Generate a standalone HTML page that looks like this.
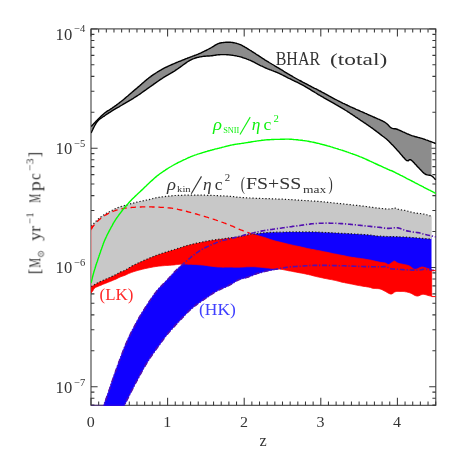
<!DOCTYPE html>
<html><head><meta charset="utf-8"><title>plot</title>
<style>html,body{margin:0;padding:0;background:#fff}svg{display:block}text{font-family:"Liberation Serif",serif}</style>
</head><body>
<svg width="463" height="463" viewBox="0 0 463 463">
<defs><clipPath id="cp"><rect x="91.1" y="28.9" width="345.3" height="377.00000000000006"/></clipPath></defs>
<rect width="463" height="463" fill="#fff"/>
<rect x="91.0" y="28.9" width="344.8" height="376.40000000000003" fill="none" stroke="#383838" stroke-width="1.05"/>
<path d="M91.00 405.3 v-7.6 M91.00 28.9 v7.6 M98.66 405.3 v-3.7 M98.66 28.9 v3.7 M106.32 405.3 v-3.7 M106.32 28.9 v3.7 M113.98 405.3 v-3.7 M113.98 28.9 v3.7 M121.64 405.3 v-3.7 M121.64 28.9 v3.7 M129.30 405.3 v-3.7 M129.30 28.9 v3.7 M136.96 405.3 v-3.7 M136.96 28.9 v3.7 M144.62 405.3 v-3.7 M144.62 28.9 v3.7 M152.28 405.3 v-3.7 M152.28 28.9 v3.7 M159.94 405.3 v-3.7 M159.94 28.9 v3.7 M167.60 405.3 v-7.6 M167.60 28.9 v7.6 M175.26 405.3 v-3.7 M175.26 28.9 v3.7 M182.92 405.3 v-3.7 M182.92 28.9 v3.7 M190.58 405.3 v-3.7 M190.58 28.9 v3.7 M198.24 405.3 v-3.7 M198.24 28.9 v3.7 M205.90 405.3 v-3.7 M205.90 28.9 v3.7 M213.56 405.3 v-3.7 M213.56 28.9 v3.7 M221.22 405.3 v-3.7 M221.22 28.9 v3.7 M228.88 405.3 v-3.7 M228.88 28.9 v3.7 M236.54 405.3 v-3.7 M236.54 28.9 v3.7 M244.20 405.3 v-7.6 M244.20 28.9 v7.6 M251.86 405.3 v-3.7 M251.86 28.9 v3.7 M259.52 405.3 v-3.7 M259.52 28.9 v3.7 M267.18 405.3 v-3.7 M267.18 28.9 v3.7 M274.84 405.3 v-3.7 M274.84 28.9 v3.7 M282.50 405.3 v-3.7 M282.50 28.9 v3.7 M290.16 405.3 v-3.7 M290.16 28.9 v3.7 M297.82 405.3 v-3.7 M297.82 28.9 v3.7 M305.48 405.3 v-3.7 M305.48 28.9 v3.7 M313.14 405.3 v-3.7 M313.14 28.9 v3.7 M320.80 405.3 v-7.6 M320.80 28.9 v7.6 M328.46 405.3 v-3.7 M328.46 28.9 v3.7 M336.12 405.3 v-3.7 M336.12 28.9 v3.7 M343.78 405.3 v-3.7 M343.78 28.9 v3.7 M351.44 405.3 v-3.7 M351.44 28.9 v3.7 M359.10 405.3 v-3.7 M359.10 28.9 v3.7 M366.76 405.3 v-3.7 M366.76 28.9 v3.7 M374.42 405.3 v-3.7 M374.42 28.9 v3.7 M382.08 405.3 v-3.7 M382.08 28.9 v3.7 M389.74 405.3 v-3.7 M389.74 28.9 v3.7 M397.40 405.3 v-7.6 M397.40 28.9 v7.6 M405.06 405.3 v-3.7 M405.06 28.9 v3.7 M412.72 405.3 v-3.7 M412.72 28.9 v3.7 M420.38 405.3 v-3.7 M420.38 28.9 v3.7 M428.04 405.3 v-3.7 M428.04 28.9 v3.7 M435.70 405.3 v-3.7 M435.70 28.9 v3.7 M91.0 405.12 h3.4 M435.8 405.12 h-3.4 M91.0 398.21 h3.4 M435.8 398.21 h-3.4 M91.0 392.11 h3.4 M435.8 392.11 h-3.4 M91.0 386.65 h6.6 M435.8 386.65 h-6.6 M91.0 350.75 h3.4 M435.8 350.75 h-3.4 M91.0 329.75 h3.4 M435.8 329.75 h-3.4 M91.0 314.85 h3.4 M435.8 314.85 h-3.4 M91.0 303.30 h3.4 M435.8 303.30 h-3.4 M91.0 293.86 h3.4 M435.8 293.86 h-3.4 M91.0 285.87 h3.4 M435.8 285.87 h-3.4 M91.0 278.96 h3.4 M435.8 278.96 h-3.4 M91.0 272.86 h3.4 M435.8 272.86 h-3.4 M91.0 267.40 h6.6 M435.8 267.40 h-6.6 M91.0 231.50 h3.4 M435.8 231.50 h-3.4 M91.0 210.50 h3.4 M435.8 210.50 h-3.4 M91.0 195.60 h3.4 M435.8 195.60 h-3.4 M91.0 184.05 h3.4 M435.8 184.05 h-3.4 M91.0 174.61 h3.4 M435.8 174.61 h-3.4 M91.0 166.62 h3.4 M435.8 166.62 h-3.4 M91.0 159.71 h3.4 M435.8 159.71 h-3.4 M91.0 153.61 h3.4 M435.8 153.61 h-3.4 M91.0 148.15 h6.6 M435.8 148.15 h-6.6 M91.0 112.25 h3.4 M435.8 112.25 h-3.4 M91.0 91.25 h3.4 M435.8 91.25 h-3.4 M91.0 76.35 h3.4 M435.8 76.35 h-3.4 M91.0 64.80 h3.4 M435.8 64.80 h-3.4 M91.0 55.36 h3.4 M435.8 55.36 h-3.4 M91.0 47.37 h3.4 M435.8 47.37 h-3.4 M91.0 40.46 h3.4 M435.8 40.46 h-3.4 M91.0 34.36 h3.4 M435.8 34.36 h-3.4 M91.0 28.90 h6.6 M435.8 28.90 h-6.6" stroke="#383838" stroke-width="1.05" fill="none"/>
<g clip-path="url(#cp)">
<path d="M102.5 410.0 L102.7 409.4 L102.9 408.6 L103.2 407.6 L103.5 406.5 L103.9 405.2 L104.4 403.7 L104.7 402.9 L105.0 402.1 L105.3 401.2 L105.6 400.2 L106.0 399.2 L106.3 398.2 L106.7 397.2 L107.1 396.1 L107.5 395.0 L107.9 393.9 L108.3 392.7 L108.7 391.6 L109.0 390.7 L109.3 389.8 L109.6 389.0 L109.9 388.0 L110.2 387.1 L110.5 386.2 L110.8 385.2 L111.1 384.3 L111.5 383.3 L111.8 382.3 L112.1 381.3 L112.5 380.3 L112.8 379.3 L113.2 378.2 L113.5 377.2 L113.9 376.1 L114.2 375.2 L114.5 374.3 L114.8 373.4 L115.2 372.5 L115.5 371.6 L115.8 370.6 L116.2 369.6 L116.5 368.7 L116.9 367.7 L117.2 366.7 L117.6 365.7 L118.0 364.7 L118.3 363.8 L118.7 362.8 L119.0 361.8 L119.4 360.8 L119.7 359.9 L120.1 358.9 L120.5 358.0 L120.8 357.1 L121.2 356.1 L121.6 355.1 L122.0 354.1 L122.3 353.1 L122.7 352.1 L123.1 351.1 L123.5 350.1 L123.9 349.1 L124.2 348.1 L124.6 347.2 L125.0 346.2 L125.4 345.2 L125.8 344.3 L126.2 343.4 L126.5 342.5 L126.9 341.6 L127.3 340.7 L127.7 339.8 L128.2 338.8 L128.6 337.8 L129.1 336.7 L129.6 335.8 L130.1 334.8 L130.5 333.8 L131.0 332.9 L131.5 332.0 L132.0 331.0 L132.4 330.2 L132.9 329.3 L133.3 328.4 L133.8 327.6 L134.2 326.8 L134.6 326.0 L135.2 324.9 L135.7 323.9 L136.2 323.0 L136.6 322.1 L137.1 321.2 L137.5 320.4 L138.0 319.5 L138.6 318.6 L139.1 317.6 L139.8 316.5 L140.2 315.8 L140.7 315.0 L141.2 314.2 L141.7 313.3 L142.3 312.4 L142.8 311.6 L143.4 310.7 L143.9 309.8 L144.5 308.9 L145.1 307.9 L145.7 307.0 L146.3 306.1 L146.8 305.2 L147.4 304.4 L148.0 303.5 L148.5 302.7 L149.1 301.8 L149.8 300.8 L150.4 299.9 L151.1 298.9 L151.7 298.0 L152.4 297.0 L153.0 296.1 L153.7 295.2 L154.3 294.3 L154.9 293.5 L155.5 292.7 L156.1 292.0 L156.6 291.3 L157.1 290.6 L158.0 289.5 L158.8 288.6 L159.5 287.8 L160.1 287.2 L160.7 286.6 L161.3 286.0 L162.0 285.3 L162.7 284.6 L163.4 283.9 L164.0 283.2 L164.7 282.5 L165.4 281.8 L166.2 281.0 L167.0 280.2 L167.6 279.5 L168.3 278.8 L169.0 278.1 L169.7 277.3 L170.4 276.5 L171.1 275.7 L171.8 274.9 L172.5 274.2 L173.2 273.5 L173.8 272.8 L174.6 271.9 L175.4 271.1 L176.2 270.3 L176.9 269.6 L177.6 268.9 L178.3 268.3 L179.0 267.6 L179.9 266.8 L180.7 266.1 L181.5 265.4 L182.3 264.6 L183.3 263.8 L184.0 263.2 L184.7 262.6 L185.5 261.9 L186.3 261.2 L187.1 260.5 L187.9 259.8 L188.7 259.1 L189.4 258.5 L190.3 257.8 L191.0 257.1 L191.8 256.5 L192.6 255.8 L193.5 255.2 L194.5 254.4 L195.2 253.9 L196.0 253.3 L196.8 252.8 L197.7 252.2 L198.6 251.5 L199.6 250.9 L200.5 250.3 L201.4 249.8 L202.3 249.2 L203.2 248.7 L204.2 248.2 L205.1 247.7 L206.1 247.2 L207.0 246.8 L208.0 246.4 L208.9 245.9 L209.9 245.5 L210.8 245.1 L211.8 244.7 L212.8 244.3 L213.7 243.9 L214.7 243.4 L215.7 243.0 L216.6 242.6 L217.6 242.3 L218.6 241.9 L219.5 241.5 L220.5 241.2 L221.6 240.9 L222.6 240.6 L223.7 240.3 L224.8 240.0 L225.8 239.8 L226.9 239.5 L228.0 239.3 L229.1 239.0 L230.1 238.7 L231.2 238.5 L232.2 238.2 L233.3 237.9 L234.4 237.7 L235.5 237.4 L236.5 237.1 L237.6 236.9 L238.6 236.6 L239.7 236.3 L240.8 236.0 L241.9 235.7 L243.0 235.4 L244.1 235.1 L245.2 234.9 L246.2 234.6 L247.3 234.3 L248.4 234.0 L249.5 233.8 L250.5 233.5 L251.6 233.3 L252.7 233.0 L253.8 232.8 L254.8 232.5 L255.9 232.3 L257.0 232.1 L258.0 231.8 L259.1 231.6 L260.2 231.4 L261.3 231.1 L262.3 230.9 L263.4 230.7 L264.5 230.5 L265.6 230.3 L266.7 230.1 L267.8 230.0 L268.8 229.8 L269.9 229.7 L271.0 229.5 L272.1 229.4 L273.2 229.2 L274.3 229.0 L275.4 228.9 L276.4 228.7 L277.5 228.6 L278.6 228.5 L279.6 228.3 L280.7 228.2 L281.8 228.0 L282.9 227.8 L284.0 227.7 L285.1 227.5 L286.2 227.3 L287.2 227.2 L288.3 227.0 L289.4 226.9 L290.5 226.7 L291.6 226.6 L292.6 226.4 L293.7 226.3 L294.8 226.2 L295.8 226.0 L296.9 225.9 L298.0 225.8 L299.1 225.6 L300.1 225.5 L301.2 225.3 L302.2 225.1 L303.3 225.0 L304.4 224.8 L305.5 224.6 L306.5 224.5 L307.6 224.3 L308.6 224.2 L309.7 224.1 L310.8 223.9 L311.9 223.8 L313.0 223.7 L314.1 223.6 L315.2 223.6 L316.2 223.5 L317.3 223.4 L318.4 223.3 L319.5 223.3 L320.5 223.2 L321.6 223.2 L322.7 223.2 L323.8 223.1 L324.8 223.1 L325.9 223.1 L327.0 223.1 L328.0 223.1 L329.1 223.1 L330.2 223.2 L331.3 223.2 L332.3 223.2 L333.4 223.3 L334.5 223.3 L335.6 223.3 L336.7 223.4 L337.8 223.4 L338.8 223.5 L339.9 223.5 L341.0 223.6 L342.1 223.6 L343.2 223.7 L344.3 223.8 L345.4 223.9 L346.4 224.0 L347.5 224.1 L348.6 224.2 L349.6 224.3 L350.7 224.4 L351.8 224.5 L352.9 224.6 L354.0 224.7 L355.1 224.8 L356.2 224.9 L357.2 225.1 L358.3 225.2 L359.4 225.3 L360.5 225.4 L361.6 225.5 L362.7 225.6 L363.9 225.8 L365.0 225.9 L366.1 226.0 L367.1 226.1 L368.2 226.2 L369.1 226.3 L370.5 226.4 L371.7 226.6 L372.8 226.7 L373.9 226.8 L375.0 226.9 L376.0 227.0 L376.9 227.1 L377.8 227.2 L378.8 227.3 L380.0 227.4 L381.0 227.5 L382.0 227.7 L383.2 227.9 L384.3 228.1 L385.5 228.2 L386.7 228.3 L387.8 228.4 L388.9 228.4 L390.1 228.3 L391.3 228.2 L392.5 228.1 L393.6 227.9 L394.6 227.8 L395.5 227.8 L397.0 227.8 L398.0 227.9 L399.4 228.2 L400.3 228.5 L401.4 228.9 L402.5 229.3 L403.6 229.8 L404.8 230.2 L405.9 230.6 L407.0 230.9 L408.1 231.1 L409.1 231.3 L410.2 231.5 L411.3 231.7 L412.4 231.9 L413.5 232.1 L414.6 232.2 L415.6 232.3 L416.7 232.5 L417.8 232.6 L418.9 232.8 L419.9 233.0 L420.9 233.3 L421.9 233.6 L423.0 233.9 L424.1 234.2 L425.4 234.5 L426.3 234.7 L427.4 235.0 L428.5 235.2 L429.7 235.5 L431.0 235.8 L431.0 270.0 L429.7 269.8 L428.5 269.6 L427.4 269.5 L426.3 269.4 L425.4 269.3 L424.1 269.3 L423.0 269.4 L421.9 269.6 L420.9 269.8 L419.9 270.0 L418.9 270.1 L417.9 270.2 L417.0 270.2 L416.1 270.2 L415.0 270.2 L413.9 270.1 L412.4 270.1 L411.6 270.1 L410.7 270.0 L409.8 270.0 L408.7 269.9 L407.7 269.9 L406.6 269.8 L405.5 269.8 L404.4 269.7 L403.3 269.6 L402.3 269.6 L401.2 269.5 L400.3 269.5 L399.4 269.4 L398.2 269.3 L397.0 269.3 L395.9 269.2 L394.8 269.1 L393.8 269.0 L392.9 269.0 L392.0 268.9 L391.2 268.7 L390.4 268.6 L389.1 268.2 L388.3 267.6 L387.5 267.1 L386.5 266.7 L385.6 266.6 L384.5 266.6 L383.4 266.6 L382.3 266.7 L381.1 266.8 L380.0 266.8 L378.9 266.8 L377.8 266.8 L376.7 266.8 L375.6 266.8 L374.6 266.8 L373.6 266.8 L372.4 266.8 L371.5 266.7 L370.5 266.6 L369.1 266.6 L368.2 266.6 L367.2 266.6 L366.2 266.6 L365.1 266.6 L363.9 266.6 L362.8 266.5 L361.6 266.5 L360.5 266.5 L359.4 266.5 L358.3 266.4 L357.2 266.4 L356.2 266.3 L355.1 266.3 L354.0 266.2 L352.9 266.1 L351.8 266.1 L350.7 266.1 L349.6 266.0 L348.6 266.0 L347.5 265.9 L346.4 265.9 L345.4 265.9 L344.3 265.8 L343.2 265.8 L342.1 265.8 L341.0 265.7 L339.9 265.7 L338.8 265.7 L337.8 265.7 L336.7 265.6 L335.6 265.6 L334.5 265.6 L333.4 265.6 L332.3 265.5 L331.3 265.5 L330.2 265.5 L329.1 265.5 L328.0 265.4 L327.0 265.4 L325.9 265.4 L324.8 265.4 L323.8 265.4 L322.7 265.4 L321.6 265.4 L320.5 265.4 L319.5 265.4 L318.4 265.4 L317.3 265.4 L316.2 265.4 L315.2 265.4 L314.1 265.4 L313.0 265.5 L311.9 265.5 L310.8 265.5 L309.7 265.5 L308.6 265.6 L307.6 265.7 L306.5 265.7 L305.5 265.8 L304.4 265.9 L303.3 266.0 L302.2 266.1 L301.2 266.1 L300.1 266.2 L299.1 266.3 L298.0 266.4 L296.9 266.4 L295.8 266.5 L294.8 266.5 L293.7 266.6 L292.6 266.6 L291.6 266.7 L290.5 266.8 L289.4 266.9 L288.3 267.1 L287.2 267.3 L286.2 267.4 L285.1 267.6 L284.0 267.8 L282.9 268.0 L281.8 268.2 L280.7 268.4 L279.6 268.6 L278.6 268.7 L277.5 268.9 L276.4 269.1 L275.4 269.3 L274.3 269.5 L273.2 269.7 L272.1 269.9 L271.0 270.1 L269.9 270.3 L268.8 270.5 L267.8 270.8 L266.7 271.0 L265.6 271.2 L264.5 271.5 L263.4 271.8 L262.3 272.1 L261.3 272.4 L260.2 272.7 L259.1 273.0 L258.0 273.3 L257.0 273.6 L255.9 274.0 L254.9 274.3 L254.0 274.7 L253.0 275.1 L252.1 275.5 L251.1 275.8 L250.2 276.2 L249.2 276.6 L248.3 277.0 L247.3 277.3 L246.3 277.6 L245.4 277.9 L244.4 278.1 L243.5 278.3 L242.5 278.5 L241.6 278.8 L240.6 279.1 L239.6 279.4 L238.6 279.8 L237.7 280.2 L236.7 280.7 L235.8 281.3 L234.8 281.9 L233.8 282.5 L232.9 283.1 L231.9 283.7 L231.0 284.3 L230.0 284.8 L229.1 285.3 L228.1 285.8 L227.1 286.3 L226.1 286.8 L225.0 287.2 L224.1 287.6 L223.1 288.0 L222.2 288.4 L221.3 288.8 L220.5 289.2 L219.4 289.7 L218.5 290.1 L217.6 290.6 L216.8 291.0 L216.0 291.4 L215.0 292.0 L214.2 292.5 L213.4 293.0 L212.6 293.5 L211.8 294.1 L210.9 294.7 L210.1 295.3 L209.1 296.0 L208.2 296.6 L207.4 297.1 L206.6 297.7 L205.7 298.2 L204.9 298.8 L204.0 299.4 L203.1 300.0 L202.2 300.5 L201.3 301.2 L200.4 301.8 L199.5 302.4 L198.6 303.0 L197.8 303.7 L196.9 304.3 L196.1 305.0 L195.2 305.6 L194.3 306.3 L193.5 307.0 L192.6 307.7 L191.8 308.4 L190.9 309.2 L190.2 309.9 L189.5 310.5 L188.8 311.2 L188.0 311.9 L187.3 312.6 L186.6 313.3 L185.9 314.1 L185.2 314.8 L184.5 315.6 L183.7 316.3 L183.0 317.1 L182.3 317.8 L181.6 318.6 L180.8 319.3 L180.1 320.1 L179.3 320.9 L178.6 321.7 L177.9 322.5 L177.1 323.3 L176.4 324.1 L175.7 324.8 L175.0 325.6 L174.3 326.4 L173.6 327.1 L172.8 328.0 L172.1 328.8 L171.3 329.6 L170.6 330.4 L169.9 331.2 L169.2 332.0 L168.5 332.8 L167.8 333.6 L167.2 334.4 L166.5 335.2 L165.9 336.0 L165.2 336.8 L164.6 337.6 L164.1 338.4 L163.5 339.2 L162.9 340.0 L162.3 340.8 L161.7 341.6 L161.1 342.4 L160.5 343.3 L159.9 344.1 L159.3 344.9 L158.7 345.8 L158.1 346.6 L157.4 347.5 L156.8 348.3 L156.1 349.2 L155.5 350.1 L154.9 351.0 L154.2 351.9 L153.6 352.8 L153.0 353.6 L152.4 354.4 L151.9 355.3 L151.3 356.1 L150.7 356.9 L150.1 357.8 L149.6 358.6 L149.0 359.5 L148.4 360.4 L147.8 361.3 L147.3 362.2 L146.7 363.1 L146.2 364.0 L145.6 364.9 L145.1 365.8 L144.6 366.7 L144.0 367.6 L143.5 368.5 L143.0 369.5 L142.5 370.4 L141.9 371.4 L141.4 372.3 L140.9 373.3 L140.3 374.2 L139.8 375.2 L139.3 376.1 L138.8 377.0 L138.3 378.0 L137.8 378.9 L137.3 379.9 L136.8 380.9 L136.2 381.8 L135.7 382.8 L135.2 383.7 L134.7 384.7 L134.3 385.6 L133.8 386.5 L133.3 387.4 L132.9 388.2 L132.4 389.3 L131.8 390.3 L131.3 391.3 L130.8 392.4 L130.3 393.4 L129.8 394.3 L129.3 395.2 L128.9 396.1 L128.5 397.0 L128.1 397.8 L127.7 398.5 L127.0 399.8 L126.5 400.9 L126.1 401.8 L125.6 402.7 L125.1 403.7 L124.7 404.6 L124.2 405.6 L123.6 406.7 L123.1 407.7 L122.7 408.6 L122.3 409.4 L122.0 410.0Z" fill="#1000ff" stroke="#1000ff" stroke-width="1.0" stroke-linejoin="round"/>
<path d="M91.0 228.8 L91.4 228.3 L92.0 227.7 L92.6 226.9 L93.3 226.0 L94.1 225.1 L94.9 224.2 L95.8 223.2 L96.6 222.3 L97.3 221.5 L98.0 220.8 L98.9 219.9 L99.8 219.2 L100.6 218.5 L101.4 217.8 L102.2 217.2 L103.1 216.6 L104.0 216.0 L104.9 215.4 L105.9 214.8 L106.9 214.3 L108.0 213.7 L109.0 213.2 L109.9 212.7 L110.9 212.3 L112.0 211.8 L113.0 211.4 L114.0 211.0 L114.9 210.7 L115.9 210.3 L117.0 210.0 L117.9 209.7 L118.9 209.5 L119.9 209.2 L120.9 209.0 L121.9 208.8 L122.9 208.6 L123.9 208.4 L124.9 208.2 L125.9 208.1 L126.9 207.9 L128.0 207.8 L129.0 207.7 L130.1 207.6 L131.2 207.5 L132.2 207.4 L133.3 207.3 L134.3 207.3 L135.4 207.2 L136.5 207.1 L137.6 207.1 L138.7 207.0 L139.8 207.0 L140.9 207.0 L142.0 206.9 L143.1 206.9 L144.2 206.9 L145.2 206.9 L146.3 206.9 L147.4 206.9 L148.5 206.9 L149.6 206.9 L150.6 206.9 L151.6 206.9 L152.7 207.0 L153.7 207.0 L154.8 207.0 L155.9 207.0 L157.1 207.1 L158.1 207.1 L159.2 207.2 L160.3 207.3 L161.4 207.3 L162.5 207.4 L163.6 207.4 L164.8 207.5 L165.9 207.6 L167.0 207.7 L168.0 207.8 L169.1 207.9 L170.0 208.0 L170.9 208.1 L171.8 208.2 L172.7 208.3 L173.7 208.5 L174.7 208.7 L175.9 208.9 L177.3 209.2 L178.1 209.4 L179.0 209.6 L179.9 209.8 L180.8 210.0 L181.8 210.2 L182.8 210.5 L183.8 210.7 L184.9 211.0 L185.9 211.2 L187.0 211.5 L188.1 211.8 L189.2 212.1 L190.3 212.4 L191.4 212.7 L192.4 212.9 L193.5 213.2 L194.5 213.5 L195.5 213.8 L196.4 214.0 L197.4 214.3 L198.3 214.6 L199.3 214.9 L200.3 215.1 L201.2 215.4 L202.2 215.7 L203.1 216.0 L204.1 216.3 L205.1 216.6 L206.0 216.9 L207.0 217.2 L208.0 217.5 L208.9 217.8 L209.9 218.1 L210.8 218.4 L211.8 218.7 L212.8 219.0 L213.8 219.3 L214.8 219.7 L215.8 220.0 L216.8 220.4 L217.9 220.7 L218.9 221.1 L219.9 221.5 L220.9 221.8 L221.9 222.2 L222.9 222.5 L223.9 222.9 L224.9 223.2 L225.8 223.6 L226.7 223.9 L227.5 224.2 L228.3 224.5 L229.1 224.8 L230.4 225.3 L231.5 225.8 L232.5 226.2 L233.5 226.7 L234.4 227.1 L235.2 227.5 L236.1 227.9 L236.9 228.2 L237.7 228.6 L238.6 229.0 L239.6 229.4 L240.6 229.8 L241.7 230.2 L242.7 230.6 L243.7 231.0 L244.6 231.3 L245.6 231.7 L246.5 232.0 L247.3 232.3 L248.4 232.7 L249.3 233.0 L250.1 233.3 L251.0 233.6 L252.0 233.9 L253.3 234.3 L254.1 234.5 L255.1 234.8 L256.0 235.1 L257.1 235.4 L258.2 235.7 L259.3 236.0 L260.4 236.3 L261.5 236.6 L262.5 236.9 L263.6 237.2 L264.5 237.5 L265.6 237.8 L266.6 238.2 L267.6 238.5 L268.5 238.8 L269.5 239.2 L270.4 239.5 L271.3 239.8 L272.3 240.1 L273.2 240.4 L274.3 240.7 L275.4 241.0 L276.4 241.3 L277.5 241.6 L278.6 241.8 L279.6 242.1 L280.7 242.3 L281.8 242.6 L282.9 242.9 L284.0 243.1 L285.1 243.4 L286.2 243.7 L287.2 243.9 L288.3 244.2 L289.4 244.4 L290.5 244.7 L291.6 244.9 L292.6 245.2 L293.7 245.4 L294.8 245.7 L295.8 245.9 L296.9 246.1 L298.0 246.4 L299.1 246.6 L300.1 246.8 L301.2 247.1 L302.2 247.3 L303.3 247.5 L304.4 247.8 L305.5 248.0 L306.5 248.3 L307.6 248.5 L308.6 248.7 L309.7 248.9 L310.8 249.2 L311.9 249.4 L313.0 249.6 L314.1 249.8 L315.2 250.0 L316.2 250.2 L317.3 250.4 L318.4 250.6 L319.5 250.8 L320.5 251.0 L321.6 251.2 L322.7 251.5 L323.8 251.7 L324.8 251.9 L325.9 252.1 L327.0 252.3 L328.0 252.5 L329.1 252.8 L330.2 253.0 L331.3 253.2 L332.3 253.5 L333.4 253.7 L334.5 253.9 L335.6 254.1 L336.7 254.3 L337.8 254.5 L338.8 254.8 L339.9 255.0 L341.0 255.2 L342.1 255.4 L343.2 255.6 L344.3 255.8 L345.4 256.0 L346.4 256.3 L347.5 256.5 L348.6 256.7 L349.6 256.9 L350.7 257.1 L351.8 257.3 L352.9 257.5 L354.0 257.6 L355.1 257.8 L356.2 257.9 L357.2 258.1 L358.3 258.2 L359.4 258.3 L360.5 258.5 L361.6 258.7 L362.8 258.8 L363.9 259.0 L365.1 259.2 L366.2 259.4 L367.2 259.6 L368.2 259.7 L369.1 259.9 L370.5 260.1 L371.5 260.3 L372.4 260.5 L373.6 260.8 L374.6 261.0 L375.6 261.3 L376.8 261.6 L377.9 261.8 L379.0 262.1 L380.0 262.3 L381.1 262.5 L382.3 262.6 L383.3 262.7 L384.3 262.8 L385.2 263.0 L386.4 263.6 L387.4 264.2 L388.4 264.5 L389.5 264.2 L390.5 263.5 L391.5 262.8 L392.5 262.1 L393.4 261.4 L394.3 261.0 L395.6 261.6 L396.8 262.5 L397.8 263.1 L399.4 263.6 L400.3 263.8 L401.4 264.0 L402.6 264.2 L403.8 264.5 L404.9 264.7 L405.9 264.9 L407.0 265.2 L407.9 265.4 L408.8 265.7 L409.8 266.2 L410.6 266.7 L411.4 267.3 L412.2 268.0 L413.1 268.7 L414.0 269.2 L415.0 269.4 L416.0 269.3 L417.1 268.9 L418.3 268.4 L419.4 267.8 L420.5 267.4 L421.5 267.1 L422.6 267.1 L423.6 267.2 L424.6 267.5 L425.6 267.8 L426.6 268.1 L427.7 268.5 L428.9 268.9 L430.0 269.4 L431.0 269.8 L431.7 270.1 L431.7 296.4 L430.8 296.1 L429.4 295.8 L427.9 295.4 L427.0 295.1 L426.0 294.8 L425.0 294.5 L423.9 294.3 L422.8 294.3 L421.9 294.5 L420.9 294.8 L420.0 295.3 L419.0 295.7 L418.0 296.0 L416.9 296.0 L415.9 295.8 L414.9 295.4 L413.9 294.9 L412.9 294.3 L411.8 293.7 L410.8 293.2 L409.8 292.8 L408.7 292.5 L407.6 292.2 L406.6 291.9 L405.5 291.8 L404.4 291.6 L403.3 291.5 L402.2 291.4 L401.1 291.4 L399.9 291.4 L398.7 291.4 L397.6 291.4 L396.5 291.5 L395.6 291.7 L394.5 292.1 L393.6 292.8 L392.8 293.4 L391.9 293.9 L391.0 294.1 L390.1 293.9 L389.1 293.5 L388.1 293.0 L387.1 292.4 L386.1 291.8 L385.2 291.3 L384.1 290.8 L383.1 290.2 L382.1 289.7 L381.1 289.3 L380.0 288.9 L379.0 288.7 L377.9 288.6 L376.8 288.6 L375.6 288.5 L374.6 288.5 L373.6 288.4 L372.4 288.2 L371.5 287.9 L370.5 287.5 L369.1 287.2 L368.2 287.0 L367.2 286.9 L366.2 286.7 L365.1 286.5 L363.9 286.4 L362.8 286.2 L361.6 286.0 L360.5 285.8 L359.4 285.6 L358.3 285.4 L357.2 285.2 L356.2 285.0 L355.1 284.8 L354.0 284.5 L352.9 284.3 L351.8 284.1 L350.7 283.9 L349.6 283.7 L348.6 283.5 L347.5 283.3 L346.4 283.1 L345.4 282.9 L344.3 282.6 L343.2 282.4 L342.1 282.2 L341.0 281.9 L339.9 281.6 L338.8 281.3 L337.8 281.1 L336.7 280.8 L335.6 280.5 L334.5 280.3 L333.4 280.1 L332.3 279.8 L331.3 279.6 L330.2 279.4 L329.1 279.2 L328.0 279.0 L327.0 278.8 L325.9 278.6 L324.8 278.4 L323.8 278.2 L322.7 277.9 L321.6 277.7 L320.5 277.5 L319.5 277.3 L318.4 277.0 L317.3 276.8 L316.2 276.5 L315.2 276.3 L314.1 276.0 L313.0 275.7 L311.9 275.4 L310.8 275.1 L309.7 274.9 L308.6 274.6 L307.6 274.4 L306.5 274.2 L305.5 273.9 L304.4 273.7 L303.3 273.5 L302.2 273.3 L301.2 273.1 L300.1 272.9 L299.1 272.7 L298.0 272.5 L296.9 272.3 L295.8 272.1 L294.8 271.9 L293.7 271.7 L292.6 271.5 L291.6 271.3 L290.5 271.1 L289.4 270.9 L288.3 270.7 L287.2 270.4 L286.2 270.2 L285.1 270.0 L284.0 269.8 L282.9 269.6 L281.8 269.4 L280.7 269.2 L279.6 269.1 L278.6 269.0 L277.5 268.9 L276.4 268.8 L275.4 268.7 L274.3 268.6 L273.2 268.5 L272.1 268.4 L271.0 268.3 L269.9 268.2 L268.8 268.1 L267.8 268.0 L266.7 267.9 L265.6 267.8 L264.5 267.7 L263.4 267.6 L262.3 267.5 L261.3 267.3 L260.2 267.2 L259.1 267.1 L258.0 267.0 L257.0 266.9 L255.9 266.8 L254.8 266.8 L253.8 266.7 L252.7 266.7 L251.6 266.7 L250.5 266.7 L249.5 266.8 L248.4 266.8 L247.3 266.8 L246.2 266.8 L245.2 266.9 L244.1 266.9 L243.0 267.0 L241.9 267.1 L240.8 267.1 L239.7 267.2 L238.6 267.2 L237.6 267.2 L236.5 267.2 L235.5 267.2 L234.4 267.2 L233.3 267.2 L232.2 267.1 L231.2 267.1 L230.1 267.1 L229.1 267.1 L228.0 267.1 L226.9 267.1 L225.8 267.1 L224.8 267.1 L223.7 267.2 L222.6 267.2 L221.6 267.1 L220.5 267.1 L219.4 267.0 L218.3 267.0 L217.2 266.9 L216.2 266.8 L215.1 266.7 L214.0 266.5 L212.9 266.4 L211.8 266.3 L210.7 266.2 L209.6 266.0 L208.6 265.9 L207.5 265.7 L206.4 265.5 L205.4 265.4 L204.3 265.2 L203.2 265.1 L202.1 265.0 L201.1 264.9 L200.1 264.8 L199.0 264.8 L197.9 264.7 L196.9 264.6 L195.7 264.6 L194.5 264.5 L193.5 264.4 L192.5 264.4 L191.4 264.3 L190.3 264.3 L189.1 264.2 L188.0 264.2 L186.9 264.1 L185.9 264.1 L184.9 264.0 L184.0 264.0 L183.3 264.0 L181.8 264.0 L181.2 264.1 L180.0 264.2 L179.2 264.3 L178.4 264.4 L177.5 264.5 L176.5 264.6 L175.4 264.7 L174.3 264.9 L173.1 265.0 L171.8 265.1 L170.9 265.2 L169.9 265.2 L168.9 265.3 L167.9 265.4 L166.8 265.4 L165.7 265.5 L164.5 265.6 L163.4 265.7 L162.2 265.8 L161.1 265.9 L160.0 266.0 L158.9 266.1 L157.9 266.2 L156.9 266.4 L155.9 266.5 L154.9 266.7 L153.9 266.8 L152.9 267.0 L151.9 267.2 L150.9 267.4 L149.9 267.6 L148.9 267.8 L147.9 268.0 L146.9 268.2 L145.9 268.4 L144.9 268.6 L143.9 268.9 L142.8 269.1 L141.8 269.4 L140.7 269.7 L139.7 269.9 L138.6 270.2 L137.6 270.5 L136.6 270.8 L135.6 271.1 L134.7 271.4 L133.8 271.6 L133.0 271.9 L131.7 272.3 L130.6 272.8 L129.5 273.2 L128.5 273.6 L127.6 274.1 L126.7 274.5 L125.8 274.9 L125.0 275.2 L123.8 275.7 L122.8 276.0 L121.8 276.4 L120.9 276.7 L120.0 277.1 L119.1 277.5 L118.2 277.9 L117.4 278.4 L116.4 278.9 L115.2 279.4 L114.4 279.7 L113.5 280.1 L112.6 280.5 L111.6 280.9 L110.6 281.3 L109.6 281.7 L108.6 282.1 L107.6 282.5 L106.6 282.9 L105.6 283.3 L104.6 283.7 L103.5 284.1 L102.5 284.5 L101.5 285.0 L100.5 285.4 L99.6 285.7 L98.7 286.1 L98.0 286.4 L96.4 287.1 L95.4 287.6 L94.5 288.3 L93.7 289.3 L93.1 290.4 L92.5 291.3 L91.6 292.3 L91.0 293.0Z" fill="#ff0000" stroke="#ff0000" stroke-width="0.8" stroke-linejoin="round"/>
<path d="M91.2 226.2 L91.7 225.7 L92.3 225.1 L93.0 224.3 L93.8 223.5 L94.7 222.6 L95.5 221.7 L96.4 220.8 L97.2 220.0 L98.0 219.3 L98.9 218.5 L99.7 217.8 L100.6 217.2 L101.4 216.6 L102.2 216.0 L103.1 215.4 L104.0 214.8 L104.9 214.2 L105.9 213.6 L106.9 213.0 L108.0 212.5 L109.0 211.9 L109.9 211.4 L110.9 210.9 L112.0 210.4 L113.0 209.8 L114.0 209.3 L114.9 208.9 L115.9 208.4 L117.0 208.0 L117.9 207.6 L118.9 207.3 L119.9 207.0 L120.9 206.6 L121.9 206.3 L122.9 206.0 L123.9 205.7 L124.9 205.4 L125.9 205.1 L126.9 204.8 L128.0 204.5 L129.0 204.2 L130.1 203.9 L131.2 203.6 L132.2 203.3 L133.3 203.1 L134.5 202.8 L135.6 202.5 L136.8 202.2 L137.9 202.0 L138.9 201.7 L139.8 201.5 L141.1 201.2 L142.1 201.0 L143.1 200.8 L144.0 200.6 L145.0 200.4 L146.0 200.2 L146.9 200.0 L147.9 199.8 L148.9 199.6 L150.0 199.3 L150.9 199.1 L151.8 198.8 L152.7 198.6 L153.7 198.3 L154.7 198.1 L155.9 197.8 L157.1 197.6 L158.0 197.4 L159.1 197.3 L160.1 197.1 L161.3 197.0 L162.4 196.8 L163.6 196.7 L164.7 196.6 L165.9 196.4 L167.0 196.3 L168.0 196.2 L169.1 196.1 L170.0 196.0 L170.9 195.9 L171.8 195.8 L172.7 195.7 L173.7 195.6 L174.7 195.5 L175.9 195.5 L177.3 195.4 L178.1 195.4 L179.0 195.3 L179.9 195.3 L180.8 195.3 L181.8 195.3 L182.8 195.2 L183.8 195.2 L184.9 195.2 L185.9 195.2 L187.0 195.2 L188.1 195.1 L189.2 195.1 L190.3 195.1 L191.4 195.1 L192.4 195.1 L193.5 195.1 L194.5 195.1 L195.5 195.1 L196.5 195.1 L197.5 195.1 L198.6 195.1 L199.6 195.1 L200.6 195.1 L201.6 195.2 L202.6 195.2 L203.7 195.2 L204.7 195.2 L205.7 195.2 L206.7 195.2 L207.7 195.3 L208.7 195.3 L209.8 195.3 L210.8 195.4 L211.8 195.4 L212.8 195.4 L213.9 195.5 L214.9 195.5 L216.0 195.6 L217.1 195.6 L218.2 195.7 L219.2 195.7 L220.3 195.8 L221.4 195.8 L222.4 195.9 L223.5 195.9 L224.5 196.0 L225.5 196.1 L226.4 196.1 L227.4 196.2 L228.2 196.2 L229.1 196.3 L230.4 196.4 L231.6 196.5 L232.6 196.6 L233.6 196.7 L234.5 196.8 L235.5 197.0 L236.5 197.1 L237.5 197.2 L238.7 197.3 L240.0 197.4 L240.9 197.5 L241.7 197.5 L242.7 197.6 L243.6 197.6 L244.6 197.7 L245.6 197.7 L246.7 197.8 L247.7 197.9 L248.8 197.9 L249.9 198.0 L250.9 198.0 L252.0 198.1 L253.1 198.1 L254.2 198.2 L255.2 198.2 L256.3 198.3 L257.3 198.3 L258.3 198.3 L259.3 198.4 L260.3 198.4 L261.4 198.5 L262.4 198.5 L263.4 198.5 L264.4 198.6 L265.4 198.6 L266.4 198.6 L267.4 198.7 L268.4 198.7 L269.4 198.7 L270.4 198.8 L271.5 198.8 L272.5 198.8 L273.5 198.9 L274.5 198.9 L275.5 198.9 L276.5 199.0 L277.5 199.0 L278.6 199.1 L279.6 199.1 L280.6 199.2 L281.6 199.2 L282.6 199.2 L283.7 199.3 L284.7 199.3 L285.7 199.4 L286.7 199.4 L287.7 199.5 L288.7 199.5 L289.8 199.6 L290.8 199.6 L291.8 199.7 L292.8 199.8 L293.9 199.8 L294.9 199.9 L296.0 199.9 L297.1 200.0 L298.2 200.1 L299.2 200.2 L300.3 200.2 L301.4 200.3 L302.4 200.4 L303.5 200.4 L304.5 200.5 L305.5 200.6 L306.4 200.6 L307.4 200.7 L308.2 200.7 L309.1 200.8 L310.4 200.9 L311.7 201.0 L312.8 201.0 L313.9 201.1 L314.9 201.1 L315.8 201.2 L316.8 201.3 L317.8 201.3 L318.9 201.4 L320.0 201.5 L321.0 201.6 L321.9 201.7 L322.9 201.8 L323.8 201.9 L324.8 202.0 L325.8 202.1 L326.8 202.2 L327.8 202.3 L328.8 202.4 L330.0 202.5 L331.1 202.7 L332.3 202.8 L333.2 202.9 L334.1 203.0 L335.0 203.1 L336.0 203.2 L337.0 203.3 L338.0 203.4 L339.0 203.5 L340.1 203.6 L341.1 203.7 L342.2 203.8 L343.2 203.9 L344.3 204.0 L345.3 204.2 L346.4 204.3 L347.4 204.4 L348.5 204.5 L349.5 204.6 L350.5 204.7 L351.6 204.8 L352.7 205.0 L353.8 205.1 L354.9 205.2 L356.0 205.3 L357.1 205.4 L358.2 205.6 L359.3 205.7 L360.3 205.8 L361.4 205.9 L362.4 206.1 L363.4 206.2 L364.3 206.3 L365.2 206.4 L366.0 206.5 L366.8 206.6 L368.3 206.8 L369.6 207.0 L370.7 207.1 L371.7 207.3 L372.6 207.4 L373.4 207.6 L374.2 207.7 L375.0 207.8 L376.2 207.9 L377.1 208.0 L378.0 208.1 L378.9 208.2 L380.0 208.3 L381.0 208.4 L382.1 208.5 L383.3 208.6 L384.6 208.8 L385.8 208.9 L386.9 209.0 L387.8 209.0 L389.1 209.0 L390.2 208.9 L391.1 208.8 L392.0 208.7 L393.4 208.2 L394.9 208.0 L395.9 208.3 L396.9 208.7 L398.1 209.2 L399.4 209.6 L400.4 209.8 L401.4 209.9 L402.5 210.1 L403.7 210.2 L404.8 210.4 L405.9 210.6 L407.0 210.9 L408.1 211.2 L409.1 211.6 L410.2 211.9 L411.3 212.2 L412.4 212.5 L413.5 212.7 L414.6 212.9 L415.6 213.0 L416.7 213.1 L417.8 213.3 L418.9 213.4 L420.0 213.5 L421.1 213.7 L422.2 213.8 L423.2 214.0 L424.3 214.2 L425.4 214.4 L426.5 214.7 L427.7 215.1 L429.0 215.5 L430.1 215.8 L431.0 216.2 L431.7 216.4 L431.7 239.1 L431.1 239.1 L430.5 239.0 L429.8 238.9 L429.0 238.9 L428.2 238.8 L427.3 238.7 L426.4 238.7 L425.4 238.6 L424.3 238.5 L423.2 238.4 L422.1 238.3 L421.0 238.2 L419.8 238.1 L418.7 238.0 L417.5 237.9 L416.3 237.8 L415.1 237.7 L413.9 237.6 L412.7 237.5 L411.5 237.5 L410.3 237.4 L409.2 237.3 L408.0 237.2 L407.0 237.2 L405.9 237.1 L404.9 237.0 L403.8 237.0 L402.7 236.9 L401.6 236.9 L400.5 236.9 L399.4 236.8 L398.2 236.8 L397.1 236.7 L396.0 236.7 L394.8 236.7 L393.7 236.6 L392.6 236.6 L391.5 236.6 L390.4 236.6 L389.3 236.5 L388.2 236.5 L387.2 236.5 L386.2 236.4 L385.2 236.4 L384.2 236.4 L383.3 236.4 L382.4 236.3 L381.6 236.3 L380.8 236.2 L380.0 236.2 L378.3 236.1 L377.0 236.0 L375.8 235.8 L374.9 235.7 L374.0 235.6 L373.2 235.4 L372.4 235.3 L371.4 235.2 L370.4 235.0 L369.1 234.9 L368.2 234.8 L367.4 234.8 L366.4 234.7 L365.5 234.6 L364.5 234.6 L363.5 234.5 L362.4 234.4 L361.4 234.4 L360.3 234.3 L359.2 234.2 L358.2 234.2 L357.1 234.1 L356.0 234.0 L354.9 234.0 L353.9 233.9 L352.8 233.9 L351.8 233.8 L350.8 233.7 L349.8 233.7 L348.7 233.6 L347.7 233.6 L346.7 233.5 L345.7 233.5 L344.7 233.4 L343.7 233.4 L342.6 233.3 L341.6 233.3 L340.6 233.2 L339.6 233.2 L338.6 233.1 L337.5 233.1 L336.5 233.0 L335.5 233.0 L334.5 232.9 L333.5 232.8 L332.4 232.8 L331.3 232.7 L330.2 232.7 L329.1 232.6 L328.0 232.6 L326.9 232.5 L325.8 232.5 L324.7 232.4 L323.7 232.4 L322.6 232.3 L321.6 232.3 L320.7 232.2 L319.7 232.2 L318.9 232.2 L318.1 232.1 L317.3 232.1 L315.8 232.0 L314.6 232.0 L313.7 232.0 L312.9 231.9 L312.1 231.9 L311.1 231.9 L310.0 231.9 L309.0 231.9 L308.0 231.9 L306.9 231.9 L305.8 231.9 L304.6 231.9 L303.5 231.9 L302.3 231.9 L301.2 231.9 L300.1 231.9 L299.1 231.9 L297.9 231.9 L296.8 231.9 L295.7 231.9 L294.7 231.9 L293.6 231.9 L292.6 231.9 L291.6 231.9 L290.5 231.9 L289.4 231.9 L288.3 232.0 L287.2 232.0 L286.2 232.0 L285.1 232.1 L284.0 232.1 L282.9 232.2 L281.8 232.2 L280.7 232.2 L279.6 232.2 L278.6 232.2 L277.5 232.2 L276.4 232.2 L275.4 232.3 L274.3 232.3 L273.2 232.3 L272.1 232.3 L271.0 232.4 L269.9 232.4 L268.8 232.5 L267.8 232.6 L266.7 232.6 L265.6 232.7 L264.5 232.8 L263.4 232.9 L262.3 233.0 L261.3 233.1 L260.2 233.2 L259.1 233.3 L258.0 233.4 L257.0 233.6 L255.9 233.7 L254.8 233.8 L253.8 234.0 L252.7 234.1 L251.6 234.3 L250.5 234.5 L249.5 234.6 L248.4 234.8 L247.3 235.0 L246.2 235.2 L245.2 235.4 L244.1 235.7 L243.0 235.9 L241.9 236.2 L240.8 236.4 L239.7 236.6 L238.6 236.8 L237.6 237.0 L236.5 237.1 L235.5 237.2 L234.4 237.3 L233.3 237.4 L232.2 237.6 L231.2 237.7 L230.1 237.8 L229.1 237.9 L228.0 238.0 L226.9 238.2 L225.8 238.3 L224.8 238.5 L223.7 238.7 L222.6 238.8 L221.6 239.0 L220.5 239.1 L219.4 239.2 L218.3 239.4 L217.2 239.5 L216.2 239.6 L215.1 239.8 L214.0 239.9 L212.9 240.0 L211.8 240.2 L210.7 240.4 L209.6 240.6 L208.6 240.8 L207.5 241.0 L206.4 241.2 L205.4 241.4 L204.3 241.6 L203.2 241.8 L202.1 242.0 L201.0 242.2 L199.9 242.5 L198.8 242.7 L197.7 242.9 L196.6 243.1 L195.5 243.4 L194.5 243.6 L193.4 243.9 L192.3 244.1 L191.2 244.4 L190.1 244.7 L189.1 244.9 L188.0 245.2 L187.0 245.5 L186.0 245.8 L185.0 246.1 L184.0 246.4 L183.1 246.7 L182.1 247.0 L181.1 247.4 L180.0 247.7 L179.1 248.0 L178.1 248.3 L177.2 248.6 L176.3 248.9 L175.3 249.2 L174.2 249.5 L173.1 249.9 L171.8 250.3 L171.0 250.6 L170.1 250.8 L169.1 251.1 L168.2 251.4 L167.2 251.7 L166.2 252.0 L165.1 252.3 L164.1 252.7 L163.0 253.0 L162.0 253.3 L160.9 253.7 L159.9 254.0 L158.9 254.4 L158.0 254.7 L157.0 255.1 L156.1 255.4 L155.2 255.8 L154.3 256.1 L153.3 256.5 L152.4 256.9 L151.5 257.3 L150.5 257.6 L149.6 258.0 L148.7 258.4 L147.8 258.8 L146.8 259.2 L145.9 259.6 L145.0 260.0 L144.0 260.4 L143.0 260.8 L142.1 261.3 L141.1 261.7 L140.1 262.1 L139.1 262.6 L138.2 263.0 L137.2 263.5 L136.3 263.9 L135.4 264.3 L134.6 264.7 L133.8 265.1 L133.0 265.5 L131.9 266.1 L130.8 266.7 L129.9 267.3 L128.9 267.8 L128.1 268.4 L127.3 268.9 L126.5 269.4 L125.7 269.8 L125.0 270.2 L123.8 270.8 L122.8 271.2 L121.8 271.5 L120.9 271.8 L120.0 272.2 L119.1 272.7 L118.2 273.2 L117.4 273.7 L116.4 274.3 L115.2 274.9 L114.4 275.3 L113.5 275.7 L112.6 276.1 L111.6 276.6 L110.6 277.0 L109.6 277.5 L108.6 277.9 L107.6 278.4 L106.6 278.8 L105.6 279.2 L104.7 279.7 L103.7 280.1 L102.7 280.5 L101.7 281.0 L100.7 281.4 L99.8 281.8 L98.9 282.3 L98.0 282.7 L96.9 283.3 L95.7 283.9 L94.6 284.6 L93.5 285.2 L92.6 285.8 L91.8 286.2 L91.2 286.6Z" fill="#c8c8c8"/>
<path d="M91.2 226.2 L91.7 225.7 L92.3 225.1 L93.0 224.3 L93.8 223.5 L94.7 222.6 L95.5 221.7 L96.4 220.8 L97.2 220.0 L98.0 219.3 L98.9 218.5 L99.7 217.8 L100.6 217.2 L101.4 216.6 L102.2 216.0 L103.1 215.4 L104.0 214.8 L104.9 214.2 L105.9 213.6 L106.9 213.0 L108.0 212.5 L109.0 211.9 L109.9 211.4 L110.9 210.9 L112.0 210.4 L113.0 209.8 L114.0 209.3 L114.9 208.9 L115.9 208.4 L117.0 208.0 L117.9 207.6 L118.9 207.3 L119.9 207.0 L120.9 206.6 L121.9 206.3 L122.9 206.0 L123.9 205.7 L124.9 205.4 L125.9 205.1 L126.9 204.8 L128.0 204.5 L129.0 204.2 L130.1 203.9 L131.2 203.6 L132.2 203.3 L133.3 203.1 L134.5 202.8 L135.6 202.5 L136.8 202.2 L137.9 202.0 L138.9 201.7 L139.8 201.5 L141.1 201.2 L142.1 201.0 L143.1 200.8 L144.0 200.6 L145.0 200.4 L146.0 200.2 L146.9 200.0 L147.9 199.8 L148.9 199.6 L150.0 199.3 L150.9 199.1 L151.8 198.8 L152.7 198.6 L153.7 198.3 L154.7 198.1 L155.9 197.8 L157.1 197.6 L158.0 197.4 L159.1 197.3 L160.1 197.1 L161.3 197.0 L162.4 196.8 L163.6 196.7 L164.7 196.6 L165.9 196.4 L167.0 196.3 L168.0 196.2 L169.1 196.1 L170.0 196.0 L170.9 195.9 L171.8 195.8 L172.7 195.7 L173.7 195.6 L174.7 195.5 L175.9 195.5 L177.3 195.4 L178.1 195.4 L179.0 195.3 L179.9 195.3 L180.8 195.3 L181.8 195.3 L182.8 195.2 L183.8 195.2 L184.9 195.2 L185.9 195.2 L187.0 195.2 L188.1 195.1 L189.2 195.1 L190.3 195.1 L191.4 195.1 L192.4 195.1 L193.5 195.1 L194.5 195.1 L195.5 195.1 L196.5 195.1 L197.5 195.1 L198.6 195.1 L199.6 195.1 L200.6 195.1 L201.6 195.2 L202.6 195.2 L203.7 195.2 L204.7 195.2 L205.7 195.2 L206.7 195.2 L207.7 195.3 L208.7 195.3 L209.8 195.3 L210.8 195.4 L211.8 195.4 L212.8 195.4 L213.9 195.5 L214.9 195.5 L216.0 195.6 L217.1 195.6 L218.2 195.7 L219.2 195.7 L220.3 195.8 L221.4 195.8 L222.4 195.9 L223.5 195.9 L224.5 196.0 L225.5 196.1 L226.4 196.1 L227.4 196.2 L228.2 196.2 L229.1 196.3 L230.4 196.4 L231.6 196.5 L232.6 196.6 L233.6 196.7 L234.5 196.8 L235.5 197.0 L236.5 197.1 L237.5 197.2 L238.7 197.3 L240.0 197.4 L240.9 197.5 L241.7 197.5 L242.7 197.6 L243.6 197.6 L244.6 197.7 L245.6 197.7 L246.7 197.8 L247.7 197.9 L248.8 197.9 L249.9 198.0 L250.9 198.0 L252.0 198.1 L253.1 198.1 L254.2 198.2 L255.2 198.2 L256.3 198.3 L257.3 198.3 L258.3 198.3 L259.3 198.4 L260.3 198.4 L261.4 198.5 L262.4 198.5 L263.4 198.5 L264.4 198.6 L265.4 198.6 L266.4 198.6 L267.4 198.7 L268.4 198.7 L269.4 198.7 L270.4 198.8 L271.5 198.8 L272.5 198.8 L273.5 198.9 L274.5 198.9 L275.5 198.9 L276.5 199.0 L277.5 199.0 L278.6 199.1 L279.6 199.1 L280.6 199.2 L281.6 199.2 L282.6 199.2 L283.7 199.3 L284.7 199.3 L285.7 199.4 L286.7 199.4 L287.7 199.5 L288.7 199.5 L289.8 199.6 L290.8 199.6 L291.8 199.7 L292.8 199.8 L293.9 199.8 L294.9 199.9 L296.0 199.9 L297.1 200.0 L298.2 200.1 L299.2 200.2 L300.3 200.2 L301.4 200.3 L302.4 200.4 L303.5 200.4 L304.5 200.5 L305.5 200.6 L306.4 200.6 L307.4 200.7 L308.2 200.7 L309.1 200.8 L310.4 200.9 L311.7 201.0 L312.8 201.0 L313.9 201.1 L314.9 201.1 L315.8 201.2 L316.8 201.3 L317.8 201.3 L318.9 201.4 L320.0 201.5 L321.0 201.6 L321.9 201.7 L322.9 201.8 L323.8 201.9 L324.8 202.0 L325.8 202.1 L326.8 202.2 L327.8 202.3 L328.8 202.4 L330.0 202.5 L331.1 202.7 L332.3 202.8 L333.2 202.9 L334.1 203.0 L335.0 203.1 L336.0 203.2 L337.0 203.3 L338.0 203.4 L339.0 203.5 L340.1 203.6 L341.1 203.7 L342.2 203.8 L343.2 203.9 L344.3 204.0 L345.3 204.2 L346.4 204.3 L347.4 204.4 L348.5 204.5 L349.5 204.6 L350.5 204.7 L351.6 204.8 L352.7 205.0 L353.8 205.1 L354.9 205.2 L356.0 205.3 L357.1 205.4 L358.2 205.6 L359.3 205.7 L360.3 205.8 L361.4 205.9 L362.4 206.1 L363.4 206.2 L364.3 206.3 L365.2 206.4 L366.0 206.5 L366.8 206.6 L368.3 206.8 L369.6 207.0 L370.7 207.1 L371.7 207.3 L372.6 207.4 L373.4 207.6 L374.2 207.7 L375.0 207.8 L376.2 207.9 L377.1 208.0 L378.0 208.1 L378.9 208.2 L380.0 208.3 L381.0 208.4 L382.1 208.5 L383.3 208.6 L384.6 208.8 L385.8 208.9 L386.9 209.0 L387.8 209.0 L389.1 209.0 L390.2 208.9 L391.1 208.8 L392.0 208.7 L393.4 208.2 L394.9 208.0 L395.9 208.3 L396.9 208.7 L398.1 209.2 L399.4 209.6 L400.4 209.8 L401.4 209.9 L402.5 210.1 L403.7 210.2 L404.8 210.4 L405.9 210.6 L407.0 210.9 L408.1 211.2 L409.1 211.6 L410.2 211.9 L411.3 212.2 L412.4 212.5 L413.5 212.7 L414.6 212.9 L415.6 213.0 L416.7 213.1 L417.8 213.3 L418.9 213.4 L420.0 213.5 L421.1 213.7 L422.2 213.8 L423.2 214.0 L424.3 214.2 L425.4 214.4 L426.5 214.7 L427.7 215.1 L429.0 215.5 L430.1 215.8 L431.0 216.2 L431.7 216.4" fill="none" stroke="#1a1a1a" stroke-width="1.2" stroke-dasharray="1.25 2.0"/>
<path d="M91.2 286.6 L91.8 286.2 L92.6 285.8 L93.5 285.2 L94.6 284.6 L95.7 283.9 L96.9 283.3 L98.0 282.7 L98.9 282.3 L99.8 281.8 L100.7 281.4 L101.7 281.0 L102.7 280.5 L103.7 280.1 L104.7 279.7 L105.6 279.2 L106.6 278.8 L107.6 278.4 L108.6 277.9 L109.6 277.5 L110.6 277.0 L111.6 276.6 L112.6 276.1 L113.5 275.7 L114.4 275.3 L115.2 274.9 L116.4 274.3 L117.4 273.7 L118.2 273.2 L119.1 272.7 L120.0 272.2 L120.9 271.8 L121.8 271.5 L122.8 271.2 L123.8 270.8 L125.0 270.2 L125.7 269.8 L126.5 269.4 L127.3 268.9 L128.1 268.4 L128.9 267.8 L129.9 267.3 L130.8 266.7 L131.9 266.1 L133.0 265.5 L133.8 265.1 L134.6 264.7 L135.4 264.3 L136.3 263.9 L137.2 263.5 L138.2 263.0 L139.1 262.6 L140.1 262.1 L141.1 261.7 L142.1 261.3 L143.0 260.8 L144.0 260.4 L145.0 260.0 L145.9 259.6 L146.8 259.2 L147.8 258.8 L148.7 258.4 L149.6 258.0 L150.5 257.6 L151.5 257.3 L152.4 256.9 L153.3 256.5 L154.3 256.1 L155.2 255.8 L156.1 255.4 L157.0 255.1 L158.0 254.7 L158.9 254.4 L159.9 254.0 L160.9 253.7 L162.0 253.3 L163.0 253.0 L164.1 252.7 L165.1 252.3 L166.2 252.0 L167.2 251.7 L168.2 251.4 L169.1 251.1 L170.1 250.8 L171.0 250.6 L171.8 250.3 L173.1 249.9 L174.2 249.5 L175.3 249.2 L176.3 248.9 L177.2 248.6 L178.1 248.3 L179.1 248.0 L180.0 247.7 L181.1 247.4 L182.1 247.0 L183.1 246.7 L184.0 246.4 L185.0 246.1 L186.0 245.8 L187.0 245.5 L188.0 245.2 L189.1 244.9 L190.1 244.7 L191.2 244.4 L192.3 244.1 L193.4 243.9 L194.5 243.6 L195.5 243.4 L196.6 243.1 L197.7 242.9 L198.8 242.7 L199.9 242.5 L201.0 242.2 L202.1 242.0 L203.2 241.8 L204.3 241.6 L205.4 241.4 L206.4 241.2 L207.5 241.0 L208.6 240.8 L209.6 240.6 L210.7 240.4 L211.8 240.2 L212.9 240.0 L214.0 239.9 L215.1 239.8 L216.2 239.6 L217.2 239.5 L218.3 239.4 L219.4 239.2 L220.5 239.1 L221.6 239.0 L222.6 238.8 L223.7 238.7 L224.8 238.5 L225.8 238.3 L226.9 238.2 L228.0 238.0 L229.1 237.9 L230.1 237.8 L231.2 237.7 L232.2 237.6 L233.3 237.4 L234.4 237.3 L235.5 237.2 L236.5 237.1 L237.6 237.0 L238.6 236.8 L239.7 236.6 L240.8 236.4 L241.9 236.2 L243.0 235.9 L244.1 235.7 L245.2 235.4 L246.2 235.2 L247.3 235.0 L248.4 234.8 L249.5 234.6 L250.5 234.5 L251.6 234.3 L252.7 234.1 L253.8 234.0 L254.8 233.8 L255.9 233.7 L257.0 233.6 L258.0 233.4 L259.1 233.3 L260.2 233.2 L261.3 233.1 L262.3 233.0 L263.4 232.9 L264.5 232.8 L265.6 232.7 L266.7 232.6 L267.8 232.6 L268.8 232.5 L269.9 232.4 L271.0 232.4 L272.1 232.3 L273.2 232.3 L274.3 232.3 L275.4 232.3 L276.4 232.2 L277.5 232.2 L278.6 232.2 L279.6 232.2 L280.7 232.2 L281.8 232.2 L282.9 232.2 L284.0 232.1 L285.1 232.1 L286.2 232.0 L287.2 232.0 L288.3 232.0 L289.4 231.9 L290.5 231.9 L291.6 231.9 L292.6 231.9 L293.6 231.9 L294.7 231.9 L295.7 231.9 L296.8 231.9 L297.9 231.9 L299.1 231.9 L300.1 231.9 L301.2 231.9 L302.3 231.9 L303.5 231.9 L304.6 231.9 L305.8 231.9 L306.9 231.9 L308.0 231.9 L309.0 231.9 L310.0 231.9 L311.1 231.9 L312.1 231.9 L312.9 231.9 L313.7 232.0 L314.6 232.0 L315.8 232.0 L317.3 232.1 L318.1 232.1 L318.9 232.2 L319.7 232.2 L320.7 232.2 L321.6 232.3 L322.6 232.3 L323.7 232.4 L324.7 232.4 L325.8 232.5 L326.9 232.5 L328.0 232.6 L329.1 232.6 L330.2 232.7 L331.3 232.7 L332.4 232.8 L333.5 232.8 L334.5 232.9 L335.5 233.0 L336.5 233.0 L337.5 233.1 L338.6 233.1 L339.6 233.2 L340.6 233.2 L341.6 233.3 L342.6 233.3 L343.7 233.4 L344.7 233.4 L345.7 233.5 L346.7 233.5 L347.7 233.6 L348.7 233.6 L349.8 233.7 L350.8 233.7 L351.8 233.8 L352.8 233.9 L353.9 233.9 L354.9 234.0 L356.0 234.0 L357.1 234.1 L358.2 234.2 L359.2 234.2 L360.3 234.3 L361.4 234.4 L362.4 234.4 L363.5 234.5 L364.5 234.6 L365.5 234.6 L366.4 234.7 L367.4 234.8 L368.2 234.8 L369.1 234.9 L370.4 235.0 L371.4 235.2 L372.4 235.3 L373.2 235.4 L374.0 235.6 L374.9 235.7 L375.8 235.8 L377.0 236.0 L378.3 236.1 L380.0 236.2 L380.8 236.2 L381.6 236.3 L382.4 236.3 L383.3 236.4 L384.2 236.4 L385.2 236.4 L386.2 236.4 L387.2 236.5 L388.2 236.5 L389.3 236.5 L390.4 236.6 L391.5 236.6 L392.6 236.6 L393.7 236.6 L394.8 236.7 L396.0 236.7 L397.1 236.7 L398.2 236.8 L399.4 236.8 L400.5 236.9 L401.6 236.9 L402.7 236.9 L403.8 237.0 L404.9 237.0 L405.9 237.1 L407.0 237.2 L408.0 237.2 L409.2 237.3 L410.3 237.4 L411.5 237.5 L412.7 237.5 L413.9 237.6 L415.1 237.7 L416.3 237.8 L417.5 237.9 L418.7 238.0 L419.8 238.1 L421.0 238.2 L422.1 238.3 L423.2 238.4 L424.3 238.5 L425.4 238.6 L426.4 238.7 L427.3 238.7 L428.2 238.8 L429.0 238.9 L429.8 238.9 L430.5 239.0 L431.1 239.1 L431.7 239.1" fill="none" stroke="#1a1a1a" stroke-width="1.2" stroke-dasharray="1.25 2.0"/>
<path d="M91.0 228.8 L91.4 228.3 L92.0 227.7 L92.6 226.9 L93.3 226.0 L94.1 225.1 L94.9 224.2 L95.8 223.2 L96.6 222.3 L97.3 221.5 L98.0 220.8 L98.9 219.9 L99.8 219.2 L100.6 218.5 L101.4 217.8 L102.2 217.2 L103.1 216.6 L104.0 216.0 L104.9 215.4 L105.9 214.8 L106.9 214.3 L108.0 213.7 L109.0 213.2 L109.9 212.7 L110.9 212.3 L112.0 211.8 L113.0 211.4 L114.0 211.0 L114.9 210.7 L115.9 210.3 L117.0 210.0 L117.9 209.7 L118.9 209.5 L119.9 209.2 L120.9 209.0 L121.9 208.8 L122.9 208.6 L123.9 208.4 L124.9 208.2 L125.9 208.1 L126.9 207.9 L128.0 207.8 L129.0 207.7 L130.1 207.6 L131.2 207.5 L132.2 207.4 L133.3 207.3 L134.3 207.3 L135.4 207.2 L136.5 207.1 L137.6 207.1 L138.7 207.0 L139.8 207.0 L140.9 207.0 L142.0 206.9 L143.1 206.9 L144.2 206.9 L145.2 206.9 L146.3 206.9 L147.4 206.9 L148.5 206.9 L149.6 206.9 L150.6 206.9 L151.6 206.9 L152.7 207.0 L153.7 207.0 L154.8 207.0 L155.9 207.0 L157.1 207.1 L158.1 207.1 L159.2 207.2 L160.3 207.3 L161.4 207.3 L162.5 207.4 L163.6 207.4 L164.8 207.5 L165.9 207.6 L167.0 207.7 L168.0 207.8 L169.1 207.9 L170.0 208.0 L170.9 208.1 L171.8 208.2 L172.7 208.3 L173.7 208.5 L174.7 208.7 L175.9 208.9 L177.3 209.2 L178.1 209.4 L179.0 209.6 L179.9 209.8 L180.8 210.0 L181.8 210.2 L182.8 210.5 L183.8 210.7 L184.9 211.0 L185.9 211.2 L187.0 211.5 L188.1 211.8 L189.2 212.1 L190.3 212.4 L191.4 212.7 L192.4 212.9 L193.5 213.2 L194.5 213.5 L195.5 213.8 L196.4 214.0 L197.4 214.3 L198.3 214.6 L199.3 214.9 L200.3 215.1 L201.2 215.4 L202.2 215.7 L203.1 216.0 L204.1 216.3 L205.1 216.6 L206.0 216.9 L207.0 217.2 L208.0 217.5 L208.9 217.8 L209.9 218.1 L210.8 218.4 L211.8 218.7 L212.8 219.0 L213.8 219.3 L214.8 219.7 L215.8 220.0 L216.8 220.4 L217.9 220.7 L218.9 221.1 L219.9 221.5 L220.9 221.8 L221.9 222.2 L222.9 222.5 L223.9 222.9 L224.9 223.2 L225.8 223.6 L226.7 223.9 L227.5 224.2 L228.3 224.5 L229.1 224.8 L230.4 225.3 L231.5 225.8 L232.5 226.2 L233.5 226.7 L234.4 227.1 L235.2 227.5 L236.1 227.9 L236.9 228.2 L237.7 228.6 L238.6 229.0 L239.6 229.4 L240.6 229.8 L241.7 230.2 L242.7 230.6 L243.7 231.0 L244.6 231.3 L245.6 231.7 L246.5 232.0 L247.3 232.3 L248.4 232.7 L249.3 233.0 L250.1 233.3 L251.0 233.6 L252.0 233.9 L253.3 234.3 L254.1 234.5 L255.1 234.8" fill="none" stroke="#ff0000" stroke-width="1.3" stroke-dasharray="5.5 3.8"/>
<path d="M102.5 410.0 L102.7 409.4 L102.9 408.6 L103.2 407.6 L103.5 406.5 L103.9 405.2 L104.4 403.7 L104.7 402.9 L105.0 402.1 L105.3 401.2 L105.6 400.2 L106.0 399.2 L106.3 398.2 L106.7 397.2 L107.1 396.1 L107.5 395.0 L107.9 393.9 L108.3 392.7 L108.7 391.6 L109.0 390.7 L109.3 389.8 L109.6 389.0 L109.9 388.0 L110.2 387.1 L110.5 386.2 L110.8 385.2 L111.1 384.3 L111.5 383.3 L111.8 382.3 L112.1 381.3 L112.5 380.3 L112.8 379.3 L113.2 378.2 L113.5 377.2 L113.9 376.1 L114.2 375.2 L114.5 374.3 L114.8 373.4 L115.2 372.5 L115.5 371.6 L115.8 370.6 L116.2 369.6 L116.5 368.7 L116.9 367.7 L117.2 366.7 L117.6 365.7 L118.0 364.7 L118.3 363.8 L118.7 362.8 L119.0 361.8 L119.4 360.8 L119.7 359.9 L120.1 358.9 L120.5 358.0 L120.8 357.1 L121.2 356.1 L121.6 355.1 L122.0 354.1 L122.3 353.1 L122.7 352.1 L123.1 351.1 L123.5 350.1 L123.9 349.1 L124.2 348.1 L124.6 347.2 L125.0 346.2 L125.4 345.2 L125.8 344.3 L126.2 343.4 L126.5 342.5 L126.9 341.6 L127.3 340.7 L127.7 339.8 L128.2 338.8 L128.6 337.8 L129.1 336.7 L129.6 335.8 L130.1 334.8 L130.5 333.8 L131.0 332.9 L131.5 332.0 L132.0 331.0 L132.4 330.2 L132.9 329.3 L133.3 328.4 L133.8 327.6 L134.2 326.8 L134.6 326.0 L135.2 324.9 L135.7 323.9 L136.2 323.0 L136.6 322.1 L137.1 321.2 L137.5 320.4 L138.0 319.5 L138.6 318.6 L139.1 317.6 L139.8 316.5 L140.2 315.8 L140.7 315.0 L141.2 314.2 L141.7 313.3 L142.3 312.4 L142.8 311.6 L143.4 310.7 L143.9 309.8 L144.5 308.9 L145.1 307.9 L145.7 307.0 L146.3 306.1 L146.8 305.2 L147.4 304.4 L148.0 303.5 L148.5 302.7 L149.1 301.8 L149.8 300.8 L150.4 299.9 L151.1 298.9 L151.7 298.0 L152.4 297.0 L153.0 296.1 L153.7 295.2 L154.3 294.3 L154.9 293.5 L155.5 292.7 L156.1 292.0 L156.6 291.3 L157.1 290.6 L158.0 289.5 L158.8 288.6 L159.5 287.8 L160.1 287.2 L160.7 286.6 L161.3 286.0 L162.0 285.3 L162.7 284.6 L163.4 283.9 L164.0 283.2 L164.7 282.5 L165.4 281.8 L166.2 281.0 L167.0 280.2 L167.6 279.5 L168.3 278.8 L169.0 278.1 L169.7 277.3 L170.4 276.5 L171.1 275.7 L171.8 274.9 L172.5 274.2 L173.2 273.5 L173.8 272.8 L174.6 271.9 L175.4 271.1 L176.2 270.3 L176.9 269.6 L177.6 268.9 L178.3 268.3 L179.0 267.6 L179.9 266.8 L180.7 266.1 L181.5 265.4 L182.3 264.6 L183.3 263.8 L184.0 263.2 L184.7 262.6 L185.5 261.9 L186.3 261.2 L187.1 260.5 L187.9 259.8 L188.7 259.1 L189.4 258.5 L190.3 257.8 L191.0 257.1 L191.8 256.5 L192.6 255.8 L193.5 255.2 L194.5 254.4 L195.2 253.9 L196.0 253.3 L196.8 252.8 L197.7 252.2 L198.6 251.5 L199.6 250.9 L200.5 250.3 L201.4 249.8 L202.3 249.2 L203.2 248.7 L204.2 248.2 L205.1 247.7 L206.1 247.2 L207.0 246.8 L208.0 246.4 L208.9 245.9 L209.9 245.5 L210.8 245.1 L211.8 244.7 L212.8 244.3 L213.7 243.9 L214.7 243.4 L215.7 243.0 L216.6 242.6 L217.6 242.3 L218.6 241.9 L219.5 241.5 L220.5 241.2 L221.6 240.9 L222.6 240.6 L223.7 240.3 L224.8 240.0 L225.8 239.8 L226.9 239.5 L228.0 239.3 L229.1 239.0 L230.1 238.7 L231.2 238.5 L232.2 238.2 L233.3 237.9 L234.4 237.7 L235.5 237.4 L236.5 237.1 L237.6 236.9 L238.6 236.6 L239.7 236.3 L240.8 236.0 L241.9 235.7 L243.0 235.4 L244.1 235.1 L245.2 234.9 L246.2 234.6 L247.3 234.3 L248.4 234.0 L249.5 233.8 L250.5 233.5 L251.6 233.3 L252.7 233.0 L253.8 232.8 L254.8 232.5 L255.9 232.3 L257.0 232.1 L258.0 231.8 L259.1 231.6 L260.2 231.4 L261.3 231.1 L262.3 230.9 L263.4 230.7 L264.5 230.5 L265.6 230.3 L266.7 230.1 L267.8 230.0 L268.8 229.8 L269.9 229.7 L271.0 229.5 L272.1 229.4 L273.2 229.2 L274.3 229.0 L275.4 228.9 L276.4 228.7 L277.5 228.6 L278.6 228.5 L279.6 228.3 L280.7 228.2 L281.8 228.0 L282.9 227.8 L284.0 227.7 L285.1 227.5 L286.2 227.3 L287.2 227.2 L288.3 227.0 L289.4 226.9 L290.5 226.7 L291.6 226.6 L292.6 226.4 L293.7 226.3 L294.8 226.2 L295.8 226.0 L296.9 225.9 L298.0 225.8 L299.1 225.6 L300.1 225.5 L301.2 225.3 L302.2 225.1 L303.3 225.0 L304.4 224.8 L305.5 224.6 L306.5 224.5 L307.6 224.3 L308.6 224.2 L309.7 224.1 L310.8 223.9 L311.9 223.8 L313.0 223.7 L314.1 223.6 L315.2 223.6 L316.2 223.5 L317.3 223.4 L318.4 223.3 L319.5 223.3 L320.5 223.2 L321.6 223.2 L322.7 223.2 L323.8 223.1 L324.8 223.1 L325.9 223.1 L327.0 223.1 L328.0 223.1 L329.1 223.1 L330.2 223.2 L331.3 223.2 L332.3 223.2 L333.4 223.3 L334.5 223.3 L335.6 223.3 L336.7 223.4 L337.8 223.4 L338.8 223.5 L339.9 223.5 L341.0 223.6 L342.1 223.6 L343.2 223.7 L344.3 223.8 L345.4 223.9 L346.4 224.0 L347.5 224.1 L348.6 224.2 L349.6 224.3 L350.7 224.4 L351.8 224.5 L352.9 224.6 L354.0 224.7 L355.1 224.8 L356.2 224.9 L357.2 225.1 L358.3 225.2 L359.4 225.3 L360.5 225.4 L361.6 225.5 L362.7 225.6 L363.9 225.8 L365.0 225.9 L366.1 226.0 L367.1 226.1 L368.2 226.2 L369.1 226.3 L370.5 226.4 L371.7 226.6 L372.8 226.7 L373.9 226.8 L375.0 226.9 L376.0 227.0 L376.9 227.1 L377.8 227.2 L378.8 227.3 L380.0 227.4 L381.0 227.5 L382.0 227.7 L383.2 227.9 L384.3 228.1 L385.5 228.2 L386.7 228.3 L387.8 228.4 L388.9 228.4 L390.1 228.3 L391.3 228.2 L392.5 228.1 L393.6 227.9 L394.6 227.8 L395.5 227.8 L397.0 227.8 L398.0 227.9 L399.4 228.2 L400.3 228.5 L401.4 228.9 L402.5 229.3 L403.6 229.8 L404.8 230.2 L405.9 230.6 L407.0 230.9 L408.1 231.1 L409.1 231.3 L410.2 231.5 L411.3 231.7 L412.4 231.9 L413.5 232.1 L414.6 232.2 L415.6 232.3 L416.7 232.5 L417.8 232.6 L418.9 232.8 L419.9 233.0 L420.9 233.3 L421.9 233.6 L423.0 233.9 L424.1 234.2 L425.4 234.5 L426.3 234.7 L427.4 235.0 L428.5 235.2 L429.7 235.5 L431.0 235.8 L432.1 236.0 L433.2 236.3 L434.2 236.5 L435.1 236.7 L435.7 236.8" fill="none" stroke="#5210b0" stroke-width="1.6" stroke-dasharray="5 1.8 1.2 1.8"/>
<path d="M122.0 410.0 L122.3 409.4 L122.7 408.6 L123.1 407.7 L123.6 406.7 L124.2 405.6 L124.7 404.6 L125.1 403.7 L125.6 402.7 L126.1 401.8 L126.5 400.9 L127.0 399.8 L127.7 398.5 L128.1 397.8 L128.5 397.0 L128.9 396.1 L129.3 395.2 L129.8 394.3 L130.3 393.4 L130.8 392.4 L131.3 391.3 L131.8 390.3 L132.4 389.3 L132.9 388.2 L133.3 387.4 L133.8 386.5 L134.3 385.6 L134.7 384.7 L135.2 383.7 L135.7 382.8 L136.2 381.8 L136.8 380.9 L137.3 379.9 L137.8 378.9 L138.3 378.0 L138.8 377.0 L139.3 376.1 L139.8 375.2 L140.3 374.2 L140.9 373.3 L141.4 372.3 L141.9 371.4 L142.5 370.4 L143.0 369.5 L143.5 368.5 L144.0 367.6 L144.6 366.7 L145.1 365.8 L145.6 364.9 L146.2 364.0 L146.7 363.1 L147.3 362.2 L147.8 361.3 L148.4 360.4 L149.0 359.5 L149.6 358.6 L150.1 357.8 L150.7 356.9 L151.3 356.1 L151.9 355.3 L152.4 354.4 L153.0 353.6 L153.6 352.8 L154.2 351.9 L154.9 351.0 L155.5 350.1 L156.1 349.2 L156.8 348.3 L157.4 347.5 L158.1 346.6 L158.7 345.8 L159.3 344.9 L159.9 344.1 L160.5 343.3 L161.1 342.4 L161.7 341.6 L162.3 340.8 L162.9 340.0 L163.5 339.2 L164.1 338.4 L164.6 337.6 L165.2 336.8 L165.9 336.0 L166.5 335.2 L167.2 334.4 L167.8 333.6 L168.5 332.8 L169.2 332.0 L169.9 331.2 L170.6 330.4 L171.3 329.6 L172.1 328.8 L172.8 328.0 L173.6 327.1 L174.3 326.4 L175.0 325.6 L175.7 324.8 L176.4 324.1 L177.1 323.3 L177.9 322.5 L178.6 321.7 L179.3 320.9 L180.1 320.1 L180.8 319.3 L181.6 318.6 L182.3 317.8 L183.0 317.1 L183.7 316.3 L184.5 315.6 L185.2 314.8 L185.9 314.1 L186.6 313.3 L187.3 312.6 L188.0 311.9 L188.8 311.2 L189.5 310.5 L190.2 309.9 L190.9 309.2 L191.8 308.4 L192.6 307.7 L193.5 307.0 L194.3 306.3 L195.2 305.6 L196.1 305.0 L196.9 304.3 L197.8 303.7 L198.6 303.0 L199.5 302.4 L200.4 301.8 L201.3 301.2 L202.2 300.5 L203.1 300.0 L204.0 299.4 L204.9 298.8 L205.7 298.2 L206.6 297.7 L207.4 297.1 L208.2 296.6 L209.1 296.0 L210.1 295.3 L210.9 294.7 L211.8 294.1 L212.6 293.5 L213.4 293.0 L214.2 292.5 L215.0 292.0 L216.0 291.4 L216.8 291.0 L217.6 290.6 L218.5 290.1 L219.4 289.7 L220.5 289.2 L221.3 288.8 L222.2 288.4 L223.1 288.0 L224.1 287.6 L225.0 287.2 L226.1 286.8 L227.1 286.3 L228.1 285.8 L229.1 285.3 L230.0 284.8 L231.0 284.3 L231.9 283.7 L232.9 283.1 L233.8 282.5 L234.8 281.9 L235.8 281.3 L236.7 280.7 L237.7 280.2 L238.6 279.8 L239.6 279.4 L240.6 279.1 L241.6 278.8 L242.5 278.5 L243.5 278.3 L244.4 278.1 L245.4 277.9 L246.3 277.6 L247.3 277.3 L248.3 277.0 L249.2 276.6 L250.2 276.2 L251.1 275.8 L252.1 275.5 L253.0 275.1 L254.0 274.7 L254.9 274.3 L255.9 274.0 L257.0 273.6 L258.0 273.3 L259.1 273.0 L260.2 272.7 L261.3 272.4 L262.3 272.1 L263.4 271.8 L264.5 271.5 L265.6 271.2 L266.7 271.0 L267.8 270.8 L268.8 270.5 L269.9 270.3 L271.0 270.1 L272.1 269.9 L273.2 269.7 L274.3 269.5 L275.4 269.3 L276.4 269.1 L277.5 268.9 L278.6 268.7 L279.6 268.6 L280.7 268.4 L281.8 268.2 L282.9 268.0 L284.0 267.8 L285.1 267.6 L286.2 267.4 L287.2 267.3 L288.3 267.1 L289.4 266.9 L290.5 266.8 L291.6 266.7 L292.6 266.6 L293.7 266.6 L294.8 266.5 L295.8 266.5 L296.9 266.4 L298.0 266.4 L299.1 266.3 L300.1 266.2 L301.2 266.1 L302.2 266.1 L303.3 266.0 L304.4 265.9 L305.5 265.8 L306.5 265.7 L307.6 265.7 L308.6 265.6 L309.7 265.5 L310.8 265.5 L311.9 265.5 L313.0 265.5 L314.1 265.4 L315.2 265.4 L316.2 265.4 L317.3 265.4 L318.4 265.4 L319.5 265.4 L320.5 265.4 L321.6 265.4 L322.7 265.4 L323.8 265.4 L324.8 265.4 L325.9 265.4 L327.0 265.4 L328.0 265.4 L329.1 265.5 L330.2 265.5 L331.3 265.5 L332.3 265.5 L333.4 265.6 L334.5 265.6 L335.6 265.6 L336.7 265.6 L337.8 265.7 L338.8 265.7 L339.9 265.7 L341.0 265.7 L342.1 265.8 L343.2 265.8 L344.3 265.8 L345.4 265.9 L346.4 265.9 L347.5 265.9 L348.6 266.0 L349.6 266.0 L350.7 266.1 L351.8 266.1 L352.9 266.1 L354.0 266.2 L355.1 266.3 L356.2 266.3 L357.2 266.4 L358.3 266.4 L359.4 266.5 L360.5 266.5 L361.6 266.5 L362.8 266.5 L363.9 266.6 L365.1 266.6 L366.2 266.6 L367.2 266.6 L368.2 266.6 L369.1 266.6 L370.5 266.6 L371.5 266.7 L372.4 266.8 L373.6 266.8 L374.6 266.8 L375.6 266.8 L376.7 266.8 L377.8 266.8 L378.9 266.8 L380.0 266.8 L381.1 266.8 L382.3 266.7 L383.4 266.6 L384.5 266.6 L385.6 266.6 L386.5 266.7 L387.5 267.1 L388.3 267.6 L389.1 268.2 L390.4 268.6 L391.2 268.7 L392.0 268.9 L392.9 269.0 L393.8 269.0 L394.8 269.1 L395.9 269.2 L397.0 269.3 L398.2 269.3 L399.4 269.4 L400.3 269.5 L401.2 269.5 L402.3 269.6 L403.3 269.6 L404.4 269.7 L405.5 269.8 L406.6 269.8 L407.7 269.9 L408.7 269.9 L409.8 270.0 L410.7 270.0 L411.6 270.1 L412.4 270.1 L413.9 270.1 L415.0 270.2 L416.1 270.2 L417.0 270.2 L417.9 270.2 L418.9 270.1 L419.9 270.0 L420.9 269.8 L421.9 269.6 L423.0 269.4 L424.1 269.3 L425.4 269.3 L426.3 269.4 L427.4 269.5 L428.5 269.6 L429.7 269.8 L431.0 270.0 L432.1 270.2 L433.2 270.4 L434.2 270.6 L435.1 270.7 L435.7 270.8" fill="none" stroke="#5210b0" stroke-width="1.6" stroke-dasharray="5 1.8 1.2 1.8"/>
<path d="M91.1 283.2 L91.2 282.6 L91.4 281.9 L91.6 281.1 L91.8 280.2 L92.0 279.2 L92.3 278.2 L92.5 277.1 L92.8 276.0 L93.1 274.8 L93.4 273.7 L93.7 272.6 L94.0 271.5 L94.3 270.6 L94.6 269.6 L94.9 268.7 L95.2 267.7 L95.5 266.7 L95.8 265.7 L96.2 264.6 L96.5 263.6 L96.8 262.6 L97.2 261.7 L97.5 260.7 L97.8 259.8 L98.1 258.9 L98.4 258.0 L98.8 256.9 L99.1 255.8 L99.5 254.7 L99.8 253.7 L100.2 252.7 L100.5 251.8 L100.8 250.8 L101.1 249.9 L101.5 248.9 L101.8 248.0 L102.2 247.0 L102.5 246.0 L102.9 245.0 L103.2 244.1 L103.6 243.1 L104.0 242.1 L104.4 241.1 L104.8 240.1 L105.3 239.0 L105.7 238.1 L106.1 237.2 L106.6 236.3 L107.0 235.3 L107.5 234.3 L108.0 233.3 L108.5 232.4 L109.0 231.4 L109.5 230.4 L110.0 229.5 L110.5 228.6 L110.9 227.8 L111.4 226.8 L112.0 225.8 L112.5 224.9 L112.9 224.1 L113.4 223.2 L113.9 222.4 L114.4 221.5 L115.0 220.6 L115.6 219.7 L116.1 218.9 L116.7 218.0 L117.3 217.2 L117.9 216.3 L118.6 215.4 L119.2 214.5 L119.9 213.6 L120.6 212.7 L121.2 211.9 L121.9 211.0 L122.5 210.2 L123.2 209.3 L123.9 208.5 L124.6 207.6 L125.3 206.8 L126.0 206.0 L126.7 205.2 L127.4 204.4 L128.1 203.6 L128.8 202.8 L129.5 202.0 L130.2 201.2 L131.0 200.4 L131.8 199.6 L132.6 198.8 L133.4 198.0 L134.2 197.3 L134.9 196.5 L135.6 195.9 L136.2 195.2 L136.8 194.7 L137.8 193.8 L138.3 193.3 L138.9 192.8 L140.0 191.8 L140.6 191.2 L141.2 190.6 L142.0 189.9 L142.7 189.2 L143.5 188.4 L144.4 187.5 L145.2 186.7 L146.1 185.9 L147.0 185.0 L147.8 184.3 L148.6 183.5 L149.4 182.8 L150.2 182.0 L151.0 181.3 L151.8 180.6 L152.6 179.9 L153.3 179.2 L154.1 178.5 L154.9 177.8 L155.7 177.1 L156.5 176.4 L157.3 175.8 L158.2 175.1 L159.0 174.5 L159.9 173.8 L160.7 173.2 L161.6 172.6 L162.5 172.0 L163.3 171.4 L164.2 170.8 L165.0 170.3 L165.9 169.7 L166.8 169.1 L167.6 168.6 L168.5 168.0 L169.3 167.5 L170.2 167.0 L171.1 166.5 L171.9 166.0 L172.8 165.5 L173.6 165.0 L174.5 164.5 L175.5 164.0 L176.4 163.5 L177.4 163.0 L178.4 162.5 L179.3 162.0 L180.3 161.6 L181.3 161.1 L182.2 160.7 L183.2 160.2 L184.2 159.7 L185.1 159.3 L186.1 158.8 L187.0 158.4 L188.0 157.9 L188.9 157.5 L189.9 157.1 L190.8 156.7 L191.8 156.3 L192.8 155.9 L193.7 155.6 L194.7 155.2 L195.7 154.9 L196.6 154.6 L197.6 154.2 L198.6 153.9 L199.5 153.6 L200.5 153.3 L201.6 153.0 L202.6 152.6 L203.6 152.3 L204.7 152.0 L205.7 151.7 L206.8 151.4 L207.9 151.0 L209.1 150.7 L210.0 150.5 L210.9 150.2 L211.9 150.0 L212.8 149.7 L213.8 149.5 L214.8 149.2 L215.8 148.9 L216.9 148.7 L217.9 148.4 L218.9 148.2 L220.0 147.9 L221.0 147.7 L222.0 147.4 L223.0 147.1 L224.0 146.9 L225.1 146.6 L226.2 146.3 L227.2 146.1 L228.3 145.8 L229.3 145.6 L230.3 145.3 L231.3 145.1 L232.3 144.9 L233.3 144.7 L234.2 144.5 L235.1 144.4 L235.9 144.2 L236.7 144.1 L237.6 144.0 L238.5 143.9 L239.5 143.7 L240.6 143.6 L241.8 143.4 L243.2 143.2 L244.0 143.1 L244.9 142.9 L245.8 142.8 L246.7 142.6 L247.7 142.5 L248.7 142.3 L249.8 142.2 L250.8 142.0 L251.9 141.8 L253.0 141.6 L254.2 141.4 L255.3 141.3 L256.4 141.1 L257.5 140.9 L258.6 140.8 L259.7 140.6 L260.8 140.5 L261.9 140.3 L262.9 140.2 L263.9 140.1 L264.8 140.0 L265.9 139.9 L267.1 139.8 L268.2 139.7 L269.3 139.7 L270.5 139.6 L271.6 139.5 L272.7 139.5 L273.7 139.5 L274.8 139.4 L275.8 139.4 L276.8 139.4 L277.7 139.4 L278.7 139.4 L279.6 139.4 L280.4 139.3 L281.2 139.3 L282.0 139.3 L283.4 139.2 L284.4 139.2 L285.3 139.1 L286.0 139.1 L286.7 139.1 L287.6 139.1 L288.6 139.1 L290.0 139.2 L290.8 139.3 L291.6 139.3 L292.5 139.4 L293.4 139.5 L294.4 139.6 L295.4 139.6 L296.5 139.7 L297.5 139.8 L298.6 140.0 L299.7 140.1 L300.8 140.2 L301.9 140.3 L303.0 140.5 L304.1 140.6 L305.2 140.8 L306.3 140.9 L307.3 141.1 L308.3 141.3 L309.3 141.5 L310.3 141.7 L311.4 141.9 L312.4 142.1 L313.4 142.3 L314.4 142.5 L315.4 142.7 L316.4 143.0 L317.4 143.2 L318.4 143.4 L319.4 143.7 L320.4 144.0 L321.5 144.2 L322.5 144.5 L323.5 144.7 L324.5 145.0 L325.5 145.3 L326.4 145.5 L327.4 145.8 L328.3 146.1 L329.3 146.3 L330.3 146.6 L331.2 146.9 L332.2 147.2 L333.1 147.5 L334.1 147.8 L335.1 148.1 L336.0 148.4 L337.0 148.7 L338.0 149.0 L338.9 149.3 L339.9 149.6 L340.8 149.9 L341.8 150.2 L342.8 150.5 L343.8 150.8 L344.8 151.2 L345.8 151.5 L346.8 151.9 L347.8 152.2 L348.8 152.6 L349.8 152.9 L350.9 153.3 L351.9 153.6 L352.8 154.0 L353.8 154.3 L354.8 154.7 L355.7 155.0 L356.6 155.3 L357.5 155.7 L358.3 156.0 L359.1 156.3 L360.3 156.8 L361.4 157.2 L362.3 157.6 L363.2 158.0 L364.0 158.3 L364.8 158.7 L365.7 159.1 L366.6 159.5 L367.6 160.0 L368.7 160.5 L370.0 161.1 L370.8 161.4 L371.6 161.8 L372.4 162.2 L373.4 162.6 L374.3 163.1 L375.3 163.5 L376.3 164.0 L377.4 164.5 L378.4 165.0 L379.5 165.5 L380.6 165.9 L381.6 166.4 L382.6 166.9 L383.6 167.4 L384.6 167.8 L385.6 168.2 L386.4 168.7 L387.3 169.0 L388.1 169.4 L388.8 169.7 L389.4 170.0 L390.7 170.6 L391.0 170.6 L390.9 170.4 L391.0 170.5 L392.2 171.0 L395.0 172.4 L395.5 172.7 L396.1 173.0 L396.8 173.3 L397.5 173.7 L398.2 174.0 L399.0 174.4 L399.8 174.8 L400.7 175.3 L401.6 175.7 L402.5 176.2 L403.4 176.7 L404.4 177.2 L405.4 177.7 L406.5 178.3 L407.5 178.8 L408.6 179.3 L409.7 179.9 L410.7 180.5 L411.8 181.0 L413.0 181.6 L414.1 182.2 L415.2 182.8 L416.3 183.3 L417.4 183.9 L418.5 184.5 L419.6 185.1 L420.7 185.6 L421.8 186.2 L422.9 186.7 L423.9 187.3 L424.9 187.8 L425.9 188.3 L426.9 188.8 L427.9 189.3 L428.8 189.8 L429.7 190.2 L430.5 190.7 L431.4 191.1 L432.1 191.5 L432.9 191.9 L433.6 192.2 L434.2 192.6 L434.8 192.9 L435.3 193.2 L435.8 193.4" fill="none" stroke="#00ff00" stroke-width="1.4"/>
<path d="M91.1 126.5 L91.6 126.0 L92.3 125.3 L93.1 124.4 L93.9 123.5 L94.7 122.7 L95.4 122.0 L96.3 121.1 L96.9 120.4 L98.0 119.3 L98.6 118.7 L99.3 118.0 L100.1 117.2 L101.0 116.3 L101.8 115.5 L102.7 114.7 L103.6 113.9 L104.4 113.2 L105.3 112.5 L106.3 111.8 L107.2 111.2 L108.1 110.6 L109.1 110.1 L110.0 109.5 L110.9 108.9 L111.8 108.3 L112.6 107.7 L113.5 107.1 L114.4 106.5 L115.2 105.9 L116.1 105.3 L117.0 104.6 L117.8 104.0 L118.5 103.5 L119.3 102.9 L120.0 102.3 L120.8 101.7 L121.7 101.0 L122.7 100.2 L123.9 99.2 L124.5 98.7 L125.2 98.1 L125.9 97.5 L126.7 96.8 L127.5 96.2 L128.3 95.5 L129.1 94.8 L130.0 94.0 L130.8 93.3 L131.7 92.6 L132.6 91.8 L133.4 91.1 L134.3 90.3 L135.1 89.6 L136.0 88.9 L136.8 88.2 L137.6 87.5 L138.3 86.9 L139.1 86.2 L139.9 85.6 L140.6 84.9 L141.4 84.2 L142.1 83.5 L142.9 82.9 L143.7 82.2 L144.4 81.5 L145.2 80.9 L146.0 80.2 L146.7 79.6 L147.5 79.0 L148.3 78.4 L149.0 77.8 L149.8 77.2 L150.7 76.6 L151.5 75.9 L152.4 75.3 L153.3 74.7 L154.1 74.1 L155.0 73.6 L155.9 73.0 L156.7 72.5 L157.6 71.9 L158.5 71.4 L159.3 70.9 L160.2 70.4 L161.1 69.9 L161.9 69.4 L162.8 68.9 L163.7 68.4 L164.6 67.9 L165.6 67.4 L166.5 67.0 L167.4 66.6 L168.3 66.1 L169.3 65.7 L170.2 65.3 L171.1 64.9 L172.0 64.5 L172.9 64.1 L173.9 63.7 L174.8 63.3 L175.7 62.9 L176.6 62.5 L177.6 62.1 L178.5 61.7 L179.5 61.3 L180.4 61.0 L181.4 60.6 L182.3 60.2 L183.2 59.8 L184.2 59.5 L185.1 59.1 L186.0 58.7 L186.9 58.4 L187.8 58.0 L188.7 57.7 L189.7 57.3 L190.7 56.9 L191.7 56.6 L192.6 56.2 L193.6 55.9 L194.5 55.5 L195.4 55.1 L196.4 54.8 L197.3 54.4 L198.2 54.1 L199.1 53.7 L200.0 53.3 L201.0 52.9 L202.0 52.4 L203.0 51.9 L204.0 51.4 L204.9 50.9 L205.9 50.5 L206.9 50.0 L207.8 49.5 L208.7 49.0 L209.6 48.5 L210.4 48.1 L211.5 47.5 L212.5 46.9 L213.5 46.3 L214.4 45.7 L215.3 45.1 L216.2 44.6 L217.2 44.1 L218.1 43.7 L219.2 43.3 L220.3 43.0 L221.4 42.8 L222.6 42.6 L223.7 42.5 L224.8 42.4 L225.9 42.3 L227.0 42.2 L228.1 42.2 L229.2 42.2 L230.4 42.3 L231.5 42.4 L232.6 42.5 L233.7 42.7 L234.7 42.9 L235.6 43.1 L236.5 43.3 L237.4 43.6 L238.4 43.9 L239.4 44.3 L240.4 44.7 L241.5 45.2 L242.3 45.6 L243.2 46.1 L244.1 46.5 L244.9 47.1 L245.9 47.6 L246.8 48.2 L247.8 48.8 L248.7 49.4 L249.7 50.0 L250.8 50.6 L251.8 51.3 L252.6 51.8 L253.4 52.3 L254.2 52.9 L255.1 53.4 L255.9 54.0 L256.8 54.6 L257.7 55.1 L258.6 55.7 L259.5 56.3 L260.4 56.9 L261.3 57.5 L262.2 58.1 L263.0 58.7 L263.9 59.2 L264.8 59.8 L265.7 60.3 L266.5 60.9 L267.4 61.4 L268.3 61.9 L269.1 62.5 L270.0 63.0 L270.9 63.5 L271.7 64.0 L272.6 64.5 L273.5 65.0 L274.3 65.5 L275.2 66.1 L276.1 66.6 L276.9 67.1 L277.8 67.6 L278.7 68.1 L279.5 68.6 L280.4 69.2 L281.2 69.7 L282.1 70.2 L283.0 70.7 L283.8 71.3 L284.7 71.8 L285.5 72.3 L286.4 72.8 L287.3 73.4 L288.1 73.9 L289.0 74.4 L289.8 74.9 L290.7 75.4 L291.6 75.9 L292.5 76.4 L293.4 77.0 L294.3 77.5 L295.2 78.0 L296.1 78.5 L297.0 79.0 L297.9 79.5 L298.8 80.0 L299.7 80.5 L300.7 81.0 L301.7 81.5 L302.7 82.1 L303.7 82.6 L304.5 83.0 L305.4 83.5 L306.3 83.9 L307.2 84.4 L308.1 84.9 L309.0 85.4 L310.0 85.8 L310.9 86.3 L311.8 86.8 L312.8 87.3 L313.7 87.8 L314.7 88.3 L315.6 88.7 L316.5 89.2 L317.4 89.7 L318.3 90.1 L319.2 90.6 L320.0 91.0 L321.0 91.5 L322.0 92.1 L323.0 92.6 L324.0 93.1 L324.9 93.7 L325.8 94.2 L326.7 94.7 L327.6 95.2 L328.5 95.7 L329.4 96.2 L330.3 96.6 L331.2 97.1 L332.1 97.6 L333.0 98.1 L333.9 98.6 L334.8 99.1 L335.8 99.5 L336.7 100.0 L337.6 100.5 L338.5 101.0 L339.4 101.4 L340.4 101.9 L341.3 102.3 L342.2 102.8 L343.1 103.3 L344.1 103.7 L345.0 104.2 L345.9 104.6 L346.8 105.0 L347.8 105.5 L348.7 105.9 L349.6 106.3 L350.5 106.8 L351.5 107.2 L352.4 107.6 L353.3 108.0 L354.3 108.4 L355.2 108.8 L356.1 109.3 L357.0 109.7 L358.0 110.1 L358.9 110.5 L359.8 110.9 L360.7 111.3 L361.7 111.7 L362.6 112.1 L363.5 112.5 L364.4 112.9 L365.3 113.3 L366.3 113.7 L367.2 114.2 L368.1 114.6 L369.0 115.0 L370.0 115.4 L370.9 115.8 L371.8 116.2 L372.7 116.6 L373.7 117.0 L374.7 117.5 L375.7 117.9 L376.7 118.3 L377.7 118.8 L378.7 119.2 L379.7 119.6 L380.6 120.1 L381.6 120.5 L382.4 120.9 L383.3 121.4 L384.1 121.8 L384.8 122.2 L385.9 123.0 L386.9 123.7 L387.7 124.5 L388.5 125.3 L389.1 126.1 L389.8 126.8 L390.5 127.4 L391.3 127.9 L392.3 128.4 L393.2 128.6 L394.1 128.7 L395.2 128.8 L396.3 129.0 L397.8 129.5 L398.5 129.8 L399.3 130.1 L400.1 130.5 L401.0 130.9 L401.9 131.3 L402.9 131.8 L403.8 132.2 L404.8 132.7 L405.8 133.1 L406.8 133.6 L407.8 134.0 L408.8 134.4 L409.8 134.8 L410.7 135.2 L411.7 135.6 L412.7 135.9 L413.7 136.2 L414.7 136.5 L415.7 136.8 L416.8 137.0 L417.8 137.3 L418.8 137.6 L419.8 137.8 L420.8 138.1 L421.8 138.4 L422.7 138.7 L423.7 139.0 L424.8 139.4 L425.9 139.8 L427.1 140.2 L428.2 140.6 L429.4 141.1 L430.5 141.5 L431.6 141.9 L431.5 175.8 L430.5 175.4 L429.5 175.2 L428.4 175.1 L427.3 174.9 L426.1 174.5 L425.0 174.0 L424.3 173.5 L423.6 172.9 L422.9 172.3 L422.2 171.5 L421.5 170.8 L420.8 170.0 L420.0 169.2 L419.3 168.4 L418.5 167.6 L417.8 166.9 L417.1 166.2 L416.4 165.3 L415.6 164.5 L414.8 163.7 L414.1 162.8 L413.3 162.1 L412.6 161.3 L411.9 160.7 L411.3 160.2 L410.7 159.8 L409.3 159.8 L408.3 160.8 L406.8 160.6 L406.3 160.2 L405.7 159.7 L405.0 159.0 L404.4 158.3 L403.7 157.5 L402.9 156.7 L402.2 155.8 L401.4 154.9 L400.6 154.0 L399.9 153.1 L399.2 152.2 L398.5 151.4 L397.8 150.7 L397.0 149.9 L396.3 149.0 L395.5 148.2 L394.8 147.4 L394.0 146.6 L393.3 145.8 L392.6 145.1 L391.9 144.4 L391.2 143.7 L390.6 143.0 L390.0 142.4 L389.1 141.5 L388.4 140.8 L387.7 140.2 L387.0 139.6 L386.1 138.8 L384.8 137.8 L384.2 137.3 L383.5 136.8 L382.8 136.3 L382.1 135.7 L381.3 135.1 L380.5 134.4 L379.6 133.8 L378.8 133.1 L377.9 132.4 L377.0 131.8 L376.1 131.1 L375.2 130.4 L374.3 129.8 L373.5 129.1 L372.6 128.5 L371.8 127.9 L370.9 127.3 L370.1 126.7 L369.2 126.1 L368.4 125.5 L367.5 124.9 L366.6 124.3 L365.8 123.7 L364.9 123.1 L364.1 122.6 L363.2 122.0 L362.3 121.4 L361.5 120.8 L360.6 120.3 L359.8 119.7 L358.9 119.1 L358.0 118.5 L357.2 117.9 L356.3 117.4 L355.4 116.8 L354.6 116.2 L353.7 115.6 L352.8 115.0 L352.0 114.4 L351.1 113.9 L350.2 113.3 L349.4 112.7 L348.5 112.2 L347.6 111.6 L346.8 111.0 L345.9 110.5 L345.0 110.0 L344.2 109.4 L343.3 108.9 L342.5 108.4 L341.6 107.9 L340.7 107.3 L339.9 106.8 L339.0 106.3 L338.2 105.8 L337.3 105.3 L336.4 104.8 L335.6 104.3 L334.7 103.8 L333.9 103.3 L333.0 102.8 L332.1 102.3 L331.2 101.8 L330.3 101.3 L329.4 100.8 L328.5 100.3 L327.6 99.8 L326.7 99.3 L325.8 98.8 L324.9 98.3 L324.0 97.8 L323.0 97.2 L322.0 96.7 L321.0 96.1 L320.0 95.5 L319.2 95.0 L318.4 94.6 L317.6 94.1 L316.7 93.5 L315.9 93.0 L315.0 92.5 L314.1 91.9 L313.2 91.4 L312.3 90.8 L311.4 90.3 L310.5 89.7 L309.6 89.2 L308.7 88.6 L307.8 88.1 L307.0 87.6 L306.1 87.1 L305.3 86.6 L304.5 86.1 L303.7 85.7 L302.7 85.1 L301.7 84.6 L300.7 84.1 L299.7 83.6 L298.8 83.1 L297.9 82.7 L297.0 82.2 L296.1 81.8 L295.2 81.4 L294.3 81.0 L293.4 80.5 L292.5 80.1 L291.6 79.7 L290.7 79.2 L289.8 78.7 L288.9 78.3 L287.9 77.8 L287.0 77.3 L286.1 76.9 L285.2 76.4 L284.2 75.9 L283.3 75.5 L282.4 75.0 L281.5 74.5 L280.6 74.1 L279.6 73.7 L278.7 73.2 L277.8 72.8 L276.9 72.4 L275.9 72.0 L275.0 71.6 L274.1 71.3 L273.2 70.9 L272.2 70.6 L271.3 70.2 L270.4 69.9 L269.4 69.5 L268.5 69.1 L267.6 68.8 L266.7 68.4 L265.7 68.0 L264.8 67.6 L263.9 67.2 L262.9 66.7 L262.0 66.2 L261.0 65.8 L260.0 65.3 L259.1 64.8 L258.1 64.3 L257.2 63.8 L256.2 63.3 L255.3 62.8 L254.4 62.3 L253.5 61.9 L252.6 61.5 L251.8 61.1 L250.8 60.6 L249.8 60.2 L248.8 59.8 L247.9 59.4 L246.9 59.1 L246.0 58.7 L245.1 58.4 L244.2 58.1 L243.3 57.8 L242.4 57.5 L241.5 57.2 L240.5 56.9 L239.4 56.6 L238.4 56.4 L237.3 56.2 L236.3 55.9 L235.3 55.7 L234.2 55.6 L233.2 55.4 L232.1 55.2 L231.1 55.1 L230.1 55.0 L229.0 54.9 L228.0 54.8 L226.9 54.7 L225.9 54.6 L224.9 54.6 L223.8 54.6 L222.8 54.6 L221.7 54.6 L220.7 54.6 L219.6 54.7 L218.6 54.8 L217.4 54.9 L216.3 55.0 L215.2 55.2 L214.2 55.4 L213.1 55.5 L212.1 55.7 L211.2 55.8 L210.4 55.9 L209.1 56.0 L208.0 56.0 L207.1 56.0 L206.2 56.1 L205.0 56.2 L204.1 56.3 L203.1 56.4 L202.0 56.6 L200.9 56.8 L199.8 56.9 L198.6 57.2 L197.6 57.4 L196.5 57.7 L195.5 58.0 L194.6 58.3 L193.8 58.6 L192.9 58.9 L192.0 59.3 L191.0 59.8 L189.9 60.4 L188.7 61.1 L188.0 61.5 L187.2 62.0 L186.4 62.6 L185.6 63.2 L184.7 63.8 L183.9 64.4 L183.0 65.0 L182.1 65.7 L181.1 66.4 L180.2 67.1 L179.3 67.7 L178.4 68.4 L177.5 69.0 L176.6 69.6 L175.7 70.2 L174.8 70.8 L174.0 71.3 L173.1 71.8 L172.3 72.3 L171.4 72.9 L170.5 73.4 L169.7 73.9 L168.8 74.4 L168.0 74.9 L167.1 75.4 L166.2 75.9 L165.4 76.4 L164.5 76.9 L163.7 77.4 L162.8 78.0 L161.9 78.6 L161.1 79.1 L160.2 79.7 L159.3 80.3 L158.5 80.9 L157.6 81.5 L156.7 82.1 L155.9 82.7 L155.0 83.3 L154.1 83.9 L153.3 84.6 L152.4 85.2 L151.5 85.8 L150.7 86.4 L149.8 87.0 L148.9 87.6 L148.1 88.2 L147.2 88.8 L146.3 89.5 L145.5 90.1 L144.6 90.7 L143.7 91.3 L142.9 91.9 L142.0 92.5 L141.1 93.2 L140.3 93.8 L139.4 94.4 L138.5 95.0 L137.7 95.5 L136.8 96.1 L135.9 96.7 L135.1 97.2 L134.2 97.7 L133.4 98.3 L132.5 98.8 L131.6 99.3 L130.8 99.8 L129.9 100.3 L129.1 100.8 L128.2 101.4 L127.3 101.9 L126.5 102.4 L125.6 102.9 L124.8 103.4 L123.9 103.9 L123.0 104.4 L122.1 105.0 L121.2 105.5 L120.3 106.0 L119.4 106.6 L118.5 107.1 L117.5 107.6 L116.6 108.2 L115.7 108.7 L114.9 109.2 L114.0 109.7 L113.2 110.2 L112.4 110.7 L111.6 111.2 L110.9 111.6 L109.8 112.3 L108.8 112.9 L107.8 113.6 L106.9 114.2 L106.1 114.7 L105.3 115.3 L104.6 115.8 L103.8 116.3 L103.1 116.8 L102.1 117.5 L101.1 118.1 L100.3 118.7 L99.5 119.3 L98.7 120.0 L98.0 120.7 L97.3 121.5 L96.7 122.3 L96.1 123.2 L95.6 124.1 L95.1 125.0 L94.5 126.0 L94.0 127.0 L93.4 128.1 L92.9 129.2 L92.3 130.4 L91.8 131.5 L91.4 132.4 L91.1 133.0Z" fill="#8c8c8c"/>
<path d="M91.1 126.5 L91.6 126.0 L92.3 125.3 L93.1 124.4 L93.9 123.5 L94.7 122.7 L95.4 122.0 L96.3 121.1 L96.9 120.4 L98.0 119.3 L98.6 118.7 L99.3 118.0 L100.1 117.2 L101.0 116.3 L101.8 115.5 L102.7 114.7 L103.6 113.9 L104.4 113.2 L105.3 112.5 L106.3 111.8 L107.2 111.2 L108.1 110.6 L109.1 110.1 L110.0 109.5 L110.9 108.9 L111.8 108.3 L112.6 107.7 L113.5 107.1 L114.4 106.5 L115.2 105.9 L116.1 105.3 L117.0 104.6 L117.8 104.0 L118.5 103.5 L119.3 102.9 L120.0 102.3 L120.8 101.7 L121.7 101.0 L122.7 100.2 L123.9 99.2 L124.5 98.7 L125.2 98.1 L125.9 97.5 L126.7 96.8 L127.5 96.2 L128.3 95.5 L129.1 94.8 L130.0 94.0 L130.8 93.3 L131.7 92.6 L132.6 91.8 L133.4 91.1 L134.3 90.3 L135.1 89.6 L136.0 88.9 L136.8 88.2 L137.6 87.5 L138.3 86.9 L139.1 86.2 L139.9 85.6 L140.6 84.9 L141.4 84.2 L142.1 83.5 L142.9 82.9 L143.7 82.2 L144.4 81.5 L145.2 80.9 L146.0 80.2 L146.7 79.6 L147.5 79.0 L148.3 78.4 L149.0 77.8 L149.8 77.2 L150.7 76.6 L151.5 75.9 L152.4 75.3 L153.3 74.7 L154.1 74.1 L155.0 73.6 L155.9 73.0 L156.7 72.5 L157.6 71.9 L158.5 71.4 L159.3 70.9 L160.2 70.4 L161.1 69.9 L161.9 69.4 L162.8 68.9 L163.7 68.4 L164.6 67.9 L165.6 67.4 L166.5 67.0 L167.4 66.6 L168.3 66.1 L169.3 65.7 L170.2 65.3 L171.1 64.9 L172.0 64.5 L172.9 64.1 L173.9 63.7 L174.8 63.3 L175.7 62.9 L176.6 62.5 L177.6 62.1 L178.5 61.7 L179.5 61.3 L180.4 61.0 L181.4 60.6 L182.3 60.2 L183.2 59.8 L184.2 59.5 L185.1 59.1 L186.0 58.7 L186.9 58.4 L187.8 58.0 L188.7 57.7 L189.7 57.3 L190.7 56.9 L191.7 56.6 L192.6 56.2 L193.6 55.9 L194.5 55.5 L195.4 55.1 L196.4 54.8 L197.3 54.4 L198.2 54.1 L199.1 53.7 L200.0 53.3 L201.0 52.9 L202.0 52.4 L203.0 51.9 L204.0 51.4 L204.9 50.9 L205.9 50.5 L206.9 50.0 L207.8 49.5 L208.7 49.0 L209.6 48.5 L210.4 48.1 L211.5 47.5 L212.5 46.9 L213.5 46.3 L214.4 45.7 L215.3 45.1 L216.2 44.6 L217.2 44.1 L218.1 43.7 L219.2 43.3 L220.3 43.0 L221.4 42.8 L222.6 42.6 L223.7 42.5 L224.8 42.4 L225.9 42.3 L227.0 42.2 L228.1 42.2 L229.2 42.2 L230.4 42.3 L231.5 42.4 L232.6 42.5 L233.7 42.7 L234.7 42.9 L235.6 43.1 L236.5 43.3 L237.4 43.6 L238.4 43.9 L239.4 44.3 L240.4 44.7 L241.5 45.2 L242.3 45.6 L243.2 46.1 L244.1 46.5 L244.9 47.1 L245.9 47.6 L246.8 48.2 L247.8 48.8 L248.7 49.4 L249.7 50.0 L250.8 50.6 L251.8 51.3 L252.6 51.8 L253.4 52.3 L254.2 52.9 L255.1 53.4 L255.9 54.0 L256.8 54.6 L257.7 55.1 L258.6 55.7 L259.5 56.3 L260.4 56.9 L261.3 57.5 L262.2 58.1 L263.0 58.7 L263.9 59.2 L264.8 59.8 L265.7 60.3 L266.5 60.9 L267.4 61.4 L268.3 61.9 L269.1 62.5 L270.0 63.0 L270.9 63.5 L271.7 64.0 L272.6 64.5 L273.5 65.0 L274.3 65.5 L275.2 66.1 L276.1 66.6 L276.9 67.1 L277.8 67.6 L278.7 68.1 L279.5 68.6 L280.4 69.2 L281.2 69.7 L282.1 70.2 L283.0 70.7 L283.8 71.3 L284.7 71.8 L285.5 72.3 L286.4 72.8 L287.3 73.4 L288.1 73.9 L289.0 74.4 L289.8 74.9 L290.7 75.4 L291.6 75.9 L292.5 76.4 L293.4 77.0 L294.3 77.5 L295.2 78.0 L296.1 78.5 L297.0 79.0 L297.9 79.5 L298.8 80.0 L299.7 80.5 L300.7 81.0 L301.7 81.5 L302.7 82.1 L303.7 82.6 L304.5 83.0 L305.4 83.5 L306.3 83.9 L307.2 84.4 L308.1 84.9 L309.0 85.4 L310.0 85.8 L310.9 86.3 L311.8 86.8 L312.8 87.3 L313.7 87.8 L314.7 88.3 L315.6 88.7 L316.5 89.2 L317.4 89.7 L318.3 90.1 L319.2 90.6 L320.0 91.0 L321.0 91.5 L322.0 92.1 L323.0 92.6 L324.0 93.1 L324.9 93.7 L325.8 94.2 L326.7 94.7 L327.6 95.2 L328.5 95.7 L329.4 96.2 L330.3 96.6 L331.2 97.1 L332.1 97.6 L333.0 98.1 L333.9 98.6 L334.8 99.1 L335.8 99.5 L336.7 100.0 L337.6 100.5 L338.5 101.0 L339.4 101.4 L340.4 101.9 L341.3 102.3 L342.2 102.8 L343.1 103.3 L344.1 103.7 L345.0 104.2 L345.9 104.6 L346.8 105.0 L347.8 105.5 L348.7 105.9 L349.6 106.3 L350.5 106.8 L351.5 107.2 L352.4 107.6 L353.3 108.0 L354.3 108.4 L355.2 108.8 L356.1 109.3 L357.0 109.7 L358.0 110.1 L358.9 110.5 L359.8 110.9 L360.7 111.3 L361.7 111.7 L362.6 112.1 L363.5 112.5 L364.4 112.9 L365.3 113.3 L366.3 113.7 L367.2 114.2 L368.1 114.6 L369.0 115.0 L370.0 115.4 L370.9 115.8 L371.8 116.2 L372.7 116.6 L373.7 117.0 L374.7 117.5 L375.7 117.9 L376.7 118.3 L377.7 118.8 L378.7 119.2 L379.7 119.6 L380.6 120.1 L381.6 120.5 L382.4 120.9 L383.3 121.4 L384.1 121.8 L384.8 122.2 L385.9 123.0 L386.9 123.7 L387.7 124.5 L388.5 125.3 L389.1 126.1 L389.8 126.8 L390.5 127.4 L391.3 127.9 L392.3 128.4 L393.2 128.6 L394.1 128.7 L395.2 128.8 L396.3 129.0 L397.8 129.5 L398.5 129.8 L399.3 130.1 L400.1 130.5 L401.0 130.9 L401.9 131.3 L402.9 131.8 L403.8 132.2 L404.8 132.7 L405.8 133.1 L406.8 133.6 L407.8 134.0 L408.8 134.4 L409.8 134.8 L410.7 135.2 L411.7 135.6 L412.7 135.9 L413.7 136.2 L414.7 136.5 L415.7 136.8 L416.8 137.0 L417.8 137.3 L418.8 137.6 L419.8 137.8 L420.8 138.1 L421.8 138.4 L422.7 138.7 L423.7 139.0 L424.8 139.4 L425.9 139.8 L427.1 140.2 L428.2 140.6 L429.4 141.1 L430.5 141.5 L431.6 141.9 L432.6 142.3 L433.6 142.7 L434.4 143.0 L435.1 143.3 L435.7 143.5" fill="none" stroke="#000" stroke-width="1.4" stroke-linejoin="round"/>
<path d="M91.1 133.0 L91.4 132.4 L91.8 131.5 L92.3 130.4 L92.9 129.2 L93.4 128.1 L94.0 127.0 L94.5 126.0 L95.1 125.0 L95.6 124.1 L96.1 123.2 L96.7 122.3 L97.3 121.5 L98.0 120.7 L98.7 120.0 L99.5 119.3 L100.3 118.7 L101.1 118.1 L102.1 117.5 L103.1 116.8 L103.8 116.3 L104.6 115.8 L105.3 115.3 L106.1 114.7 L106.9 114.2 L107.8 113.6 L108.8 112.9 L109.8 112.3 L110.9 111.6 L111.6 111.2 L112.4 110.7 L113.2 110.2 L114.0 109.7 L114.9 109.2 L115.7 108.7 L116.6 108.2 L117.5 107.6 L118.5 107.1 L119.4 106.6 L120.3 106.0 L121.2 105.5 L122.1 105.0 L123.0 104.4 L123.9 103.9 L124.8 103.4 L125.6 102.9 L126.5 102.4 L127.3 101.9 L128.2 101.4 L129.1 100.8 L129.9 100.3 L130.8 99.8 L131.6 99.3 L132.5 98.8 L133.4 98.3 L134.2 97.7 L135.1 97.2 L135.9 96.7 L136.8 96.1 L137.7 95.5 L138.5 95.0 L139.4 94.4 L140.3 93.8 L141.1 93.2 L142.0 92.5 L142.9 91.9 L143.7 91.3 L144.6 90.7 L145.5 90.1 L146.3 89.5 L147.2 88.8 L148.1 88.2 L148.9 87.6 L149.8 87.0 L150.7 86.4 L151.5 85.8 L152.4 85.2 L153.3 84.6 L154.1 83.9 L155.0 83.3 L155.9 82.7 L156.7 82.1 L157.6 81.5 L158.5 80.9 L159.3 80.3 L160.2 79.7 L161.1 79.1 L161.9 78.6 L162.8 78.0 L163.7 77.4 L164.5 76.9 L165.4 76.4 L166.2 75.9 L167.1 75.4 L168.0 74.9 L168.8 74.4 L169.7 73.9 L170.5 73.4 L171.4 72.9 L172.3 72.3 L173.1 71.8 L174.0 71.3 L174.8 70.8 L175.7 70.2 L176.6 69.6 L177.5 69.0 L178.4 68.4 L179.3 67.7 L180.2 67.1 L181.1 66.4 L182.1 65.7 L183.0 65.0 L183.9 64.4 L184.7 63.8 L185.6 63.2 L186.4 62.6 L187.2 62.0 L188.0 61.5 L188.7 61.1 L189.9 60.4 L191.0 59.8 L192.0 59.3 L192.9 58.9 L193.8 58.6 L194.6 58.3 L195.5 58.0 L196.5 57.7 L197.6 57.4 L198.6 57.2 L199.8 56.9 L200.9 56.8 L202.0 56.6 L203.1 56.4 L204.1 56.3 L205.0 56.2 L206.2 56.1 L207.1 56.0 L208.0 56.0 L209.1 56.0 L210.4 55.9 L211.2 55.8 L212.1 55.7 L213.1 55.5 L214.2 55.4 L215.2 55.2 L216.3 55.0 L217.4 54.9 L218.6 54.8 L219.6 54.7 L220.7 54.6 L221.7 54.6 L222.8 54.6 L223.8 54.6 L224.9 54.6 L225.9 54.6 L226.9 54.7 L228.0 54.8 L229.0 54.9 L230.1 55.0 L231.1 55.1 L232.1 55.2 L233.2 55.4 L234.2 55.6 L235.3 55.7 L236.3 55.9 L237.3 56.2 L238.4 56.4 L239.4 56.6 L240.5 56.9 L241.5 57.2 L242.4 57.5 L243.3 57.8 L244.2 58.1 L245.1 58.4 L246.0 58.7 L246.9 59.1 L247.9 59.4 L248.8 59.8 L249.8 60.2 L250.8 60.6 L251.8 61.1 L252.6 61.5 L253.5 61.9 L254.4 62.3 L255.3 62.8 L256.2 63.3 L257.2 63.8 L258.1 64.3 L259.1 64.8 L260.0 65.3 L261.0 65.8 L262.0 66.2 L262.9 66.7 L263.9 67.2 L264.8 67.6 L265.7 68.0 L266.7 68.4 L267.6 68.8 L268.5 69.1 L269.4 69.5 L270.4 69.9 L271.3 70.2 L272.2 70.6 L273.2 70.9 L274.1 71.3 L275.0 71.6 L275.9 72.0 L276.9 72.4 L277.8 72.8 L278.7 73.2 L279.6 73.7 L280.6 74.1 L281.5 74.5 L282.4 75.0 L283.3 75.5 L284.2 75.9 L285.2 76.4 L286.1 76.9 L287.0 77.3 L287.9 77.8 L288.9 78.3 L289.8 78.7 L290.7 79.2 L291.6 79.7 L292.5 80.1 L293.4 80.5 L294.3 81.0 L295.2 81.4 L296.1 81.8 L297.0 82.2 L297.9 82.7 L298.8 83.1 L299.7 83.6 L300.7 84.1 L301.7 84.6 L302.7 85.1 L303.7 85.7 L304.5 86.1 L305.3 86.6 L306.1 87.1 L307.0 87.6 L307.8 88.1 L308.7 88.6 L309.6 89.2 L310.5 89.7 L311.4 90.3 L312.3 90.8 L313.2 91.4 L314.1 91.9 L315.0 92.5 L315.9 93.0 L316.7 93.5 L317.6 94.1 L318.4 94.6 L319.2 95.0 L320.0 95.5 L321.0 96.1 L322.0 96.7 L323.0 97.2 L324.0 97.8 L324.9 98.3 L325.8 98.8 L326.7 99.3 L327.6 99.8 L328.5 100.3 L329.4 100.8 L330.3 101.3 L331.2 101.8 L332.1 102.3 L333.0 102.8 L333.9 103.3 L334.7 103.8 L335.6 104.3 L336.4 104.8 L337.3 105.3 L338.2 105.8 L339.0 106.3 L339.9 106.8 L340.7 107.3 L341.6 107.9 L342.5 108.4 L343.3 108.9 L344.2 109.4 L345.0 110.0 L345.9 110.5 L346.8 111.0 L347.6 111.6 L348.5 112.2 L349.4 112.7 L350.2 113.3 L351.1 113.9 L352.0 114.4 L352.8 115.0 L353.7 115.6 L354.6 116.2 L355.4 116.8 L356.3 117.4 L357.2 117.9 L358.0 118.5 L358.9 119.1 L359.8 119.7 L360.6 120.3 L361.5 120.8 L362.3 121.4 L363.2 122.0 L364.1 122.6 L364.9 123.1 L365.8 123.7 L366.6 124.3 L367.5 124.9 L368.4 125.5 L369.2 126.1 L370.1 126.7 L370.9 127.3 L371.8 127.9 L372.6 128.5 L373.5 129.1 L374.3 129.8 L375.2 130.4 L376.1 131.1 L377.0 131.8 L377.9 132.4 L378.8 133.1 L379.6 133.8 L380.5 134.4 L381.3 135.1 L382.1 135.7 L382.8 136.3 L383.5 136.8 L384.2 137.3 L384.8 137.8 L386.1 138.8 L387.0 139.6 L387.7 140.2 L388.4 140.8 L389.1 141.5 L390.0 142.4 L390.6 143.0 L391.2 143.7 L391.9 144.4 L392.6 145.1 L393.3 145.8 L394.0 146.6 L394.8 147.4 L395.5 148.2 L396.3 149.0 L397.0 149.9 L397.8 150.7 L398.5 151.4 L399.2 152.2 L399.9 153.1 L400.6 154.0 L401.4 154.9 L402.2 155.8 L402.9 156.7 L403.7 157.5 L404.4 158.3 L405.0 159.0 L405.7 159.7 L406.3 160.2 L406.8 160.6 L408.3 160.8 L409.3 159.8 L410.7 159.8 L411.3 160.2 L411.9 160.7 L412.6 161.3 L413.3 162.1 L414.1 162.8 L414.8 163.7 L415.6 164.5 L416.4 165.3 L417.1 166.2 L417.8 166.9 L418.5 167.6 L419.3 168.4 L420.0 169.2 L420.8 170.0 L421.5 170.8 L422.2 171.5 L422.9 172.3 L423.6 172.9 L424.3 173.5 L425.0 174.0 L426.1 174.5 L427.3 174.9 L428.4 175.1 L429.5 175.2 L430.5 175.4 L431.5 175.8 L432.6 176.5 L433.5 177.4 L434.4 178.4 L435.2 179.2 L435.7 179.8" fill="none" stroke="#000" stroke-width="1.4" stroke-linejoin="round"/>
<path d="M91 225.6 L93.6 226.3 L91.3 230.6 Z" fill="#ff0000"/>
<path d="M431.7 270.6 H435.6 M431.7 296.6 H435.6" stroke="#ff0000" stroke-width="1" fill="none"/>
<path d="M91 405.3 H124.5" stroke="#5210b0" stroke-width="1.1" fill="none" opacity="0.5"/>
</g>
<g opacity="0.999"><g fill="#333333">
<text x="275.7" y="64.7" font-size="17.9" textLength="44.4" lengthAdjust="spacingAndGlyphs">BHAR</text>
<text x="330.0" y="64.7" font-size="17.6" textLength="57.2" lengthAdjust="spacingAndGlyphs">(total)</text>
<text x="166.9" y="189.6" font-size="17" textLength="9.0" lengthAdjust="spacingAndGlyphs" font-style="italic">ρ</text><text x="177.1" y="192.0" font-size="8.2" textLength="13.6" lengthAdjust="spacingAndGlyphs">kin</text><path d="M191.3 193.8 L201.5 176.4" stroke="#333333" stroke-width="1.1" fill="none"/><text x="203.1" y="189.6" font-size="17" textLength="8.6" lengthAdjust="spacingAndGlyphs" font-style="italic">η</text><text x="214.7" y="189.6" font-size="16.5" textLength="7.8" lengthAdjust="spacingAndGlyphs">c</text><text x="224.7" y="181.4" font-size="10.5" textLength="5.4" lengthAdjust="spacingAndGlyphs">2</text>
<text x="240.8" y="189.9" font-size="19" textLength="4.2" lengthAdjust="spacingAndGlyphs">(</text>
<text x="246" y="189.2" font-size="16.8" textLength="55.3" lengthAdjust="spacingAndGlyphs">FS+SS</text>
<text x="303" y="192.8" font-size="10.4" textLength="23.2" lengthAdjust="spacingAndGlyphs">max</text>
<text x="328.4" y="189.9" font-size="19" textLength="4.2" lengthAdjust="spacingAndGlyphs">)</text>
</g>
<g fill="#10f010"><text x="213" y="130.3" font-size="17" textLength="9.0" lengthAdjust="spacingAndGlyphs" font-style="italic">ρ</text><text x="223.2" y="132.70000000000002" font-size="8.2" textLength="16.2" lengthAdjust="spacingAndGlyphs">SNII</text><path d="M240.0 134.5 L250.2 117.1" stroke="#10f010" stroke-width="1.1" fill="none"/><text x="251.79999999999998" y="130.3" font-size="17" textLength="8.6" lengthAdjust="spacingAndGlyphs" font-style="italic">η</text><text x="263.4" y="130.3" font-size="16.5" textLength="7.8" lengthAdjust="spacingAndGlyphs">c</text><text x="273.4" y="122.10000000000001" font-size="10.5" textLength="5.4" lengthAdjust="spacingAndGlyphs">2</text></g>
<text x="99.6" y="300.2" font-size="16" textLength="33.7" lengthAdjust="spacingAndGlyphs" fill="#ff2a2a">(LK)</text>
<text x="199" y="315" font-size="16" textLength="36.8" lengthAdjust="spacingAndGlyphs" fill="#4040ff">(HK)</text>
<g fill="#333333">
<text x="86.7" y="427.2" font-size="15.5" textLength="8.0" lengthAdjust="spacingAndGlyphs">0</text>
<text x="163.3" y="427.2" font-size="15.5" textLength="8.0" lengthAdjust="spacingAndGlyphs">1</text>
<text x="239.9" y="427.2" font-size="15.5" textLength="8.0" lengthAdjust="spacingAndGlyphs">2</text>
<text x="316.5" y="427.2" font-size="15.5" textLength="8.0" lengthAdjust="spacingAndGlyphs">3</text>
<text x="393.1" y="427.2" font-size="15.5" textLength="8.0" lengthAdjust="spacingAndGlyphs">4</text>
<text x="259.5" y="446" font-size="17" textLength="7.2" lengthAdjust="spacingAndGlyphs">z</text>
<text x="55.6" y="39.6" font-size="16" textLength="16.6" lengthAdjust="spacingAndGlyphs">10</text>
<text x="74.2" y="32.1" font-size="10.6" textLength="11.2" lengthAdjust="spacingAndGlyphs">−4</text>
<text x="55.6" y="154.4" font-size="16" textLength="16.6" lengthAdjust="spacingAndGlyphs">10</text>
<text x="74.2" y="146.9" font-size="10.6" textLength="11.2" lengthAdjust="spacingAndGlyphs">−5</text>
<text x="55.6" y="273.2" font-size="16" textLength="16.6" lengthAdjust="spacingAndGlyphs">10</text>
<text x="74.2" y="265.7" font-size="10.6" textLength="11.2" lengthAdjust="spacingAndGlyphs">−6</text>
<text x="55.6" y="393.3" font-size="16" textLength="16.6" lengthAdjust="spacingAndGlyphs">10</text>
<text x="74.2" y="385.8" font-size="10.6" textLength="11.2" lengthAdjust="spacingAndGlyphs">−7</text>
</g>
<g transform="translate(40.4 274.2) rotate(-90)" fill="#333333">
<text x="0" y="0.3" font-size="16.5" textLength="5.3" lengthAdjust="spacingAndGlyphs">[</text>
<text x="6.6" y="0" font-size="16" textLength="9.6" lengthAdjust="spacingAndGlyphs">M</text>
<circle cx="20.2" cy="0.6" r="2.6" fill="none" stroke="#333333" stroke-width="0.8"/><circle cx="20.2" cy="0.6" r="0.7"/>
<text x="33.3" y="0" font-size="16" textLength="15.1" lengthAdjust="spacingAndGlyphs">yr</text>
<text x="50.6" y="-7.5" font-size="10.6" textLength="11.1" lengthAdjust="spacingAndGlyphs">−1</text>
<text x="71.6" y="0" font-size="16" textLength="8.8" lengthAdjust="spacingAndGlyphs">M</text>
<text x="83.0" y="0" font-size="16" textLength="10.0" lengthAdjust="spacingAndGlyphs">p</text>
<text x="94.3" y="0" font-size="16" textLength="6.6" lengthAdjust="spacingAndGlyphs">c</text>
<text x="103.5" y="-7.5" font-size="10.6" textLength="12.1" lengthAdjust="spacingAndGlyphs">−3</text>
<text x="117.0" y="0.3" font-size="16.5" textLength="5.3" lengthAdjust="spacingAndGlyphs">]</text>
</g></g>
</svg>
</body></html>
